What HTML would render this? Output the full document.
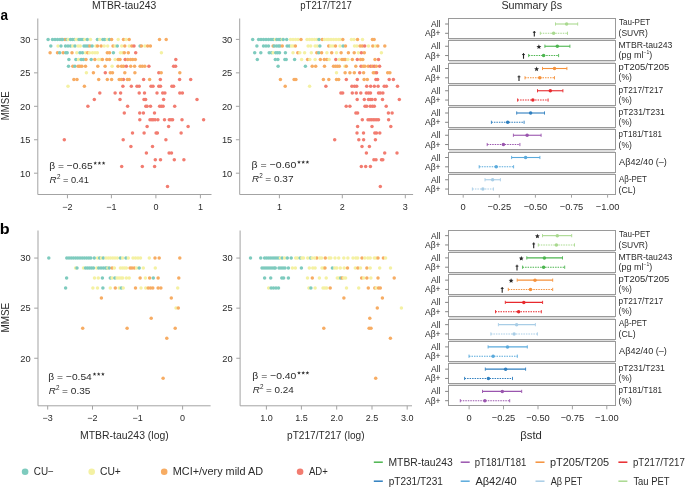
<!DOCTYPE html>
<html><head><meta charset="utf-8"><style>
html,body{margin:0;padding:0;background:#fff;}
svg{display:block;will-change:transform;}
text{font-family:"Liberation Sans", sans-serif;fill:#2b2b2b;}
</style></head><body>
<svg width="685" height="487" viewBox="0 0 685 487">
<rect width="685" height="487" fill="#fff"/>
<text x="0.39" y="19.5" font-size="15" textLength="7.54" lengthAdjust="spacingAndGlyphs" font-weight="bold" style="fill:#000">a</text>
<text x="-0.15" y="233.7" font-size="15" textLength="9.86" lengthAdjust="spacingAndGlyphs" font-weight="bold" style="fill:#000">b</text>
<text x="91.97" y="8.8" font-size="10.2" textLength="64.34" lengthAdjust="spacingAndGlyphs" >MTBR-tau243</text>
<text x="300.28" y="8.8" font-size="10.2" textLength="51.52" lengthAdjust="spacingAndGlyphs" >pT217/T217</text>
<text x="501.41" y="8.6" font-size="10.2" textLength="60.78" lengthAdjust="spacingAndGlyphs" >Summary βs</text>
<text transform="translate(9.0,105.85) rotate(-90)" font-size="10.5" text-anchor="middle" textLength="29.0" lengthAdjust="spacingAndGlyphs">MMSE</text>
<text transform="translate(9.2,317.6) rotate(-90)" font-size="10.6" text-anchor="middle" textLength="29.6" lengthAdjust="spacingAndGlyphs">MMSE</text>
<path d="M37.8 18.5 V194.5 H211.5" fill="none" stroke="#a3a3a3" stroke-width="1"/>
<line x1="34.0" y1="39.4" x2="37.8" y2="39.4" stroke="#a3a3a3" stroke-width="1"/>
<text x="30.4" y="42.7" font-size="9.3" text-anchor="end" >30</text>
<line x1="34.0" y1="72.85" x2="37.8" y2="72.85" stroke="#a3a3a3" stroke-width="1"/>
<text x="30.4" y="76.15" font-size="9.3" text-anchor="end" >25</text>
<line x1="34.0" y1="106.3" x2="37.8" y2="106.3" stroke="#a3a3a3" stroke-width="1"/>
<text x="30.4" y="109.6" font-size="9.3" text-anchor="end" >20</text>
<line x1="34.0" y1="139.75" x2="37.8" y2="139.75" stroke="#a3a3a3" stroke-width="1"/>
<text x="30.4" y="143.05" font-size="9.3" text-anchor="end" >15</text>
<line x1="34.0" y1="173.2" x2="37.8" y2="173.2" stroke="#a3a3a3" stroke-width="1"/>
<text x="30.4" y="176.5" font-size="9.3" text-anchor="end" >10</text>
<line x1="67.45" y1="194.5" x2="67.45" y2="198.3" stroke="#a3a3a3" stroke-width="1"/>
<text x="67.45" y="209.6" font-size="9" text-anchor="middle" >−2</text>
<line x1="111.4" y1="194.5" x2="111.4" y2="198.3" stroke="#a3a3a3" stroke-width="1"/>
<text x="111.4" y="209.6" font-size="9" text-anchor="middle" >−1</text>
<line x1="155.9" y1="194.5" x2="155.9" y2="198.3" stroke="#a3a3a3" stroke-width="1"/>
<text x="155.9" y="209.6" font-size="9" text-anchor="middle" >0</text>
<line x1="200.4" y1="194.5" x2="200.4" y2="198.3" stroke="#a3a3a3" stroke-width="1"/>
<text x="200.4" y="209.6" font-size="9" text-anchor="middle" >1</text>
<path d="M239.7 18.5 V194.5 H413.1" fill="none" stroke="#a3a3a3" stroke-width="1"/>
<line x1="235.89999999999998" y1="39.4" x2="239.7" y2="39.4" stroke="#a3a3a3" stroke-width="1"/>
<text x="232.3" y="42.7" font-size="9.3" text-anchor="end" >30</text>
<line x1="235.89999999999998" y1="72.85" x2="239.7" y2="72.85" stroke="#a3a3a3" stroke-width="1"/>
<text x="232.3" y="76.15" font-size="9.3" text-anchor="end" >25</text>
<line x1="235.89999999999998" y1="106.3" x2="239.7" y2="106.3" stroke="#a3a3a3" stroke-width="1"/>
<text x="232.3" y="109.6" font-size="9.3" text-anchor="end" >20</text>
<line x1="235.89999999999998" y1="139.75" x2="239.7" y2="139.75" stroke="#a3a3a3" stroke-width="1"/>
<text x="232.3" y="143.05" font-size="9.3" text-anchor="end" >15</text>
<line x1="235.89999999999998" y1="173.2" x2="239.7" y2="173.2" stroke="#a3a3a3" stroke-width="1"/>
<text x="232.3" y="176.5" font-size="9.3" text-anchor="end" >10</text>
<line x1="279.4" y1="194.5" x2="279.4" y2="198.3" stroke="#a3a3a3" stroke-width="1"/>
<text x="279.4" y="209.6" font-size="9" text-anchor="middle" >1</text>
<line x1="342.3" y1="194.5" x2="342.3" y2="198.3" stroke="#a3a3a3" stroke-width="1"/>
<text x="342.3" y="209.6" font-size="9" text-anchor="middle" >2</text>
<line x1="405.3" y1="194.5" x2="405.3" y2="198.3" stroke="#a3a3a3" stroke-width="1"/>
<text x="405.3" y="209.6" font-size="9" text-anchor="middle" >3</text>
<path d="M38.0 230.5 V405.8 H210.6" fill="none" stroke="#a3a3a3" stroke-width="1"/>
<line x1="34.2" y1="258.05" x2="38.0" y2="258.05" stroke="#a3a3a3" stroke-width="1"/>
<text x="30.6" y="261.35" font-size="9.3" text-anchor="end" >30</text>
<line x1="34.2" y1="308.15" x2="38.0" y2="308.15" stroke="#a3a3a3" stroke-width="1"/>
<text x="30.6" y="311.45" font-size="9.3" text-anchor="end" >25</text>
<line x1="34.2" y1="358.25" x2="38.0" y2="358.25" stroke="#a3a3a3" stroke-width="1"/>
<text x="30.6" y="361.55" font-size="9.3" text-anchor="end" >20</text>
<line x1="47.7" y1="405.8" x2="47.7" y2="409.6" stroke="#a3a3a3" stroke-width="1"/>
<text x="47.7" y="421" font-size="9" text-anchor="middle" >−3</text>
<line x1="92.5" y1="405.8" x2="92.5" y2="409.6" stroke="#a3a3a3" stroke-width="1"/>
<text x="92.5" y="421" font-size="9" text-anchor="middle" >−2</text>
<line x1="137.6" y1="405.8" x2="137.6" y2="409.6" stroke="#a3a3a3" stroke-width="1"/>
<text x="137.6" y="421" font-size="9" text-anchor="middle" >−1</text>
<line x1="182.6" y1="405.8" x2="182.6" y2="409.6" stroke="#a3a3a3" stroke-width="1"/>
<text x="182.6" y="421" font-size="9" text-anchor="middle" >0</text>
<path d="M240.1 230.5 V405.8 H412.0" fill="none" stroke="#a3a3a3" stroke-width="1"/>
<line x1="236.29999999999998" y1="258.05" x2="240.1" y2="258.05" stroke="#a3a3a3" stroke-width="1"/>
<text x="232.7" y="261.35" font-size="9.3" text-anchor="end" >30</text>
<line x1="236.29999999999998" y1="308.15" x2="240.1" y2="308.15" stroke="#a3a3a3" stroke-width="1"/>
<text x="232.7" y="311.45" font-size="9.3" text-anchor="end" >25</text>
<line x1="236.29999999999998" y1="358.25" x2="240.1" y2="358.25" stroke="#a3a3a3" stroke-width="1"/>
<text x="232.7" y="361.55" font-size="9.3" text-anchor="end" >20</text>
<line x1="266.4" y1="405.8" x2="266.4" y2="409.6" stroke="#a3a3a3" stroke-width="1"/>
<text x="266.4" y="421" font-size="9" text-anchor="middle" >1.0</text>
<line x1="301.4" y1="405.8" x2="301.4" y2="409.6" stroke="#a3a3a3" stroke-width="1"/>
<text x="301.4" y="421" font-size="9" text-anchor="middle" >1.5</text>
<line x1="336.7" y1="405.8" x2="336.7" y2="409.6" stroke="#a3a3a3" stroke-width="1"/>
<text x="336.7" y="421" font-size="9" text-anchor="middle" >2.0</text>
<line x1="372.0" y1="405.8" x2="372.0" y2="409.6" stroke="#a3a3a3" stroke-width="1"/>
<text x="372.0" y="421" font-size="9" text-anchor="middle" >2.5</text>
<line x1="407.2" y1="405.8" x2="407.2" y2="409.6" stroke="#a3a3a3" stroke-width="1"/>
<text x="407.2" y="421" font-size="9" text-anchor="middle" >3.0</text>
<text x="79.96" y="439" font-size="10" textLength="88.80" lengthAdjust="spacingAndGlyphs" >MTBR-tau243 (log)</text>
<text x="287.04" y="439.1" font-size="10" textLength="77.47" lengthAdjust="spacingAndGlyphs" >pT217/T217 (log)</text>
<text x="520.31" y="439" font-size="10.5" textLength="21.62" lengthAdjust="spacingAndGlyphs" >βstd</text>
<circle cx="61.5" cy="39.4" r="1.75" fill="#f7ac63"/>
<circle cx="65.0" cy="39.4" r="1.75" fill="#f7ac63"/>
<circle cx="123.4" cy="79.5" r="1.75" fill="#f27c70"/>
<circle cx="48.1" cy="39.4" r="1.75" fill="#7ecbbe"/>
<circle cx="52.5" cy="39.4" r="1.75" fill="#7ecbbe"/>
<circle cx="55.0" cy="39.4" r="1.75" fill="#7ecbbe"/>
<circle cx="57.5" cy="39.4" r="1.75" fill="#7ecbbe"/>
<circle cx="60.0" cy="39.4" r="1.75" fill="#7ecbbe"/>
<circle cx="62.5" cy="39.4" r="1.75" fill="#7ecbbe"/>
<circle cx="67.0" cy="39.4" r="1.75" fill="#7ecbbe"/>
<circle cx="68.2" cy="39.4" r="1.75" fill="#f4f1a3"/>
<circle cx="70.5" cy="39.4" r="1.75" fill="#7ecbbe"/>
<circle cx="72.5" cy="39.4" r="1.75" fill="#7ecbbe"/>
<circle cx="74.5" cy="39.4" r="1.75" fill="#7ecbbe"/>
<circle cx="76.0" cy="39.4" r="1.75" fill="#f4f1a3"/>
<circle cx="77.5" cy="39.4" r="1.75" fill="#f4f1a3"/>
<circle cx="79.0" cy="39.4" r="1.75" fill="#7ecbbe"/>
<circle cx="81.0" cy="39.4" r="1.75" fill="#7ecbbe"/>
<circle cx="83.0" cy="39.4" r="1.75" fill="#7ecbbe"/>
<circle cx="84.8" cy="39.4" r="1.75" fill="#f4f1a3"/>
<circle cx="87.3" cy="39.4" r="1.75" fill="#7ecbbe"/>
<circle cx="90.5" cy="39.4" r="1.75" fill="#f4f1a3"/>
<circle cx="97.4" cy="39.4" r="1.75" fill="#7ecbbe"/>
<circle cx="99.8" cy="39.4" r="1.75" fill="#f4f1a3"/>
<circle cx="102.9" cy="39.4" r="1.75" fill="#7ecbbe"/>
<circle cx="104.6" cy="39.4" r="1.75" fill="#7ecbbe"/>
<circle cx="107.3" cy="39.4" r="1.75" fill="#f4f1a3"/>
<circle cx="109.5" cy="39.4" r="1.75" fill="#7ecbbe"/>
<circle cx="111.6" cy="39.4" r="1.75" fill="#f7ac63"/>
<circle cx="118.2" cy="39.4" r="1.75" fill="#f4f1a3"/>
<circle cx="123.5" cy="39.4" r="1.75" fill="#f7ac63"/>
<circle cx="126.1" cy="39.4" r="1.75" fill="#f4f1a3"/>
<circle cx="129.2" cy="39.4" r="1.75" fill="#f7ac63"/>
<circle cx="159.5" cy="39.4" r="1.75" fill="#f7ac63"/>
<circle cx="166.2" cy="39.4" r="1.75" fill="#f7ac63"/>
<circle cx="50.8" cy="46.1" r="1.75" fill="#7ecbbe"/>
<circle cx="58.0" cy="46.1" r="1.75" fill="#f4f1a3"/>
<circle cx="61.0" cy="46.1" r="1.75" fill="#7ecbbe"/>
<circle cx="65.5" cy="46.1" r="1.75" fill="#7ecbbe"/>
<circle cx="68.0" cy="46.1" r="1.75" fill="#7ecbbe"/>
<circle cx="70.5" cy="46.1" r="1.75" fill="#7ecbbe"/>
<circle cx="72.8" cy="46.1" r="1.75" fill="#f4f1a3"/>
<circle cx="75.0" cy="46.1" r="1.75" fill="#7ecbbe"/>
<circle cx="78.1" cy="46.1" r="1.75" fill="#f4f1a3"/>
<circle cx="80.3" cy="46.1" r="1.75" fill="#f4f1a3"/>
<circle cx="84.0" cy="46.1" r="1.75" fill="#7ecbbe"/>
<circle cx="86.0" cy="46.1" r="1.75" fill="#7ecbbe"/>
<circle cx="88.0" cy="46.1" r="1.75" fill="#7ecbbe"/>
<circle cx="89.9" cy="46.1" r="1.75" fill="#f7ac63"/>
<circle cx="92.1" cy="46.1" r="1.75" fill="#7ecbbe"/>
<circle cx="95.9" cy="46.1" r="1.75" fill="#f4f1a3"/>
<circle cx="97.5" cy="46.1" r="1.75" fill="#f7ac63"/>
<circle cx="101.1" cy="46.1" r="1.75" fill="#f7ac63"/>
<circle cx="104.2" cy="46.1" r="1.75" fill="#f4f1a3"/>
<circle cx="107.7" cy="46.1" r="1.75" fill="#f4f1a3"/>
<circle cx="113.0" cy="46.1" r="1.75" fill="#f7ac63"/>
<circle cx="115.1" cy="46.1" r="1.75" fill="#f4f1a3"/>
<circle cx="117.3" cy="46.1" r="1.75" fill="#7ecbbe"/>
<circle cx="121.7" cy="46.1" r="1.75" fill="#f4f1a3"/>
<circle cx="124.8" cy="46.1" r="1.75" fill="#f7ac63"/>
<circle cx="129.2" cy="46.1" r="1.75" fill="#f4f1a3"/>
<circle cx="131.8" cy="46.1" r="1.75" fill="#f7ac63"/>
<circle cx="134.0" cy="46.1" r="1.75" fill="#f27c70"/>
<circle cx="140.1" cy="46.1" r="1.75" fill="#7ecbbe"/>
<circle cx="141.4" cy="46.1" r="1.75" fill="#f7ac63"/>
<circle cx="144.9" cy="46.1" r="1.75" fill="#f4f1a3"/>
<circle cx="147.6" cy="46.1" r="1.75" fill="#f7ac63"/>
<circle cx="150.4" cy="46.1" r="1.75" fill="#f7ac63"/>
<circle cx="50.1" cy="52.8" r="1.75" fill="#f7ac63"/>
<circle cx="57.5" cy="52.8" r="1.75" fill="#f7ac63"/>
<circle cx="59.7" cy="52.8" r="1.75" fill="#7ecbbe"/>
<circle cx="63.2" cy="52.8" r="1.75" fill="#f7ac63"/>
<circle cx="65.8" cy="52.8" r="1.75" fill="#7ecbbe"/>
<circle cx="67.2" cy="52.8" r="1.75" fill="#7ecbbe"/>
<circle cx="72.0" cy="52.8" r="1.75" fill="#f7ac63"/>
<circle cx="76.8" cy="52.8" r="1.75" fill="#f4f1a3"/>
<circle cx="80.0" cy="52.8" r="1.75" fill="#7ecbbe"/>
<circle cx="82.5" cy="52.8" r="1.75" fill="#7ecbbe"/>
<circle cx="85.5" cy="52.8" r="1.75" fill="#f4f1a3"/>
<circle cx="87.7" cy="52.8" r="1.75" fill="#f7ac63"/>
<circle cx="89.5" cy="52.8" r="1.75" fill="#f4f1a3"/>
<circle cx="92.5" cy="52.8" r="1.75" fill="#f4f1a3"/>
<circle cx="95.0" cy="52.8" r="1.75" fill="#f4f1a3"/>
<circle cx="97.3" cy="52.8" r="1.75" fill="#f4f1a3"/>
<circle cx="107.3" cy="52.8" r="1.75" fill="#f7ac63"/>
<circle cx="109.5" cy="52.8" r="1.75" fill="#f7ac63"/>
<circle cx="113.4" cy="52.8" r="1.75" fill="#7ecbbe"/>
<circle cx="120.4" cy="52.8" r="1.75" fill="#f4f1a3"/>
<circle cx="122.6" cy="52.8" r="1.75" fill="#f4f1a3"/>
<circle cx="124.3" cy="52.8" r="1.75" fill="#f7ac63"/>
<circle cx="128.3" cy="52.8" r="1.75" fill="#f7ac63"/>
<circle cx="135.7" cy="52.8" r="1.75" fill="#f27c70"/>
<circle cx="161.4" cy="52.8" r="1.75" fill="#f4f1a3"/>
<circle cx="68.9" cy="59.5" r="1.75" fill="#7ecbbe"/>
<circle cx="75.9" cy="59.5" r="1.75" fill="#7ecbbe"/>
<circle cx="78.5" cy="59.5" r="1.75" fill="#f4f1a3"/>
<circle cx="81.2" cy="59.5" r="1.75" fill="#7ecbbe"/>
<circle cx="83.4" cy="59.5" r="1.75" fill="#7ecbbe"/>
<circle cx="86.0" cy="59.5" r="1.75" fill="#f7ac63"/>
<circle cx="91.2" cy="59.5" r="1.75" fill="#7ecbbe"/>
<circle cx="94.9" cy="59.5" r="1.75" fill="#f7ac63"/>
<circle cx="98.6" cy="59.5" r="1.75" fill="#f4f1a3"/>
<circle cx="100.7" cy="59.5" r="1.75" fill="#f4f1a3"/>
<circle cx="102.4" cy="59.5" r="1.75" fill="#f7ac63"/>
<circle cx="106.8" cy="59.5" r="1.75" fill="#f7ac63"/>
<circle cx="109.5" cy="59.5" r="1.75" fill="#f7ac63"/>
<circle cx="115.1" cy="59.5" r="1.75" fill="#f4f1a3"/>
<circle cx="118.2" cy="59.5" r="1.75" fill="#f7ac63"/>
<circle cx="120.0" cy="59.5" r="1.75" fill="#f7ac63"/>
<circle cx="125.2" cy="59.5" r="1.75" fill="#f27c70"/>
<circle cx="127.8" cy="59.5" r="1.75" fill="#f7ac63"/>
<circle cx="130.5" cy="59.5" r="1.75" fill="#f7ac63"/>
<circle cx="132.7" cy="59.5" r="1.75" fill="#f7ac63"/>
<circle cx="135.3" cy="59.5" r="1.75" fill="#f7ac63"/>
<circle cx="175.8" cy="59.5" r="1.75" fill="#f27c70"/>
<circle cx="68.5" cy="66.2" r="1.75" fill="#7ecbbe"/>
<circle cx="72.8" cy="66.2" r="1.75" fill="#f7ac63"/>
<circle cx="74.9" cy="66.2" r="1.75" fill="#7ecbbe"/>
<circle cx="78.1" cy="66.2" r="1.75" fill="#f7ac63"/>
<circle cx="79.9" cy="66.2" r="1.75" fill="#f7ac63"/>
<circle cx="81.9" cy="66.2" r="1.75" fill="#f7ac63"/>
<circle cx="85.5" cy="66.2" r="1.75" fill="#f7ac63"/>
<circle cx="97.8" cy="66.2" r="1.75" fill="#f7ac63"/>
<circle cx="105.1" cy="66.2" r="1.75" fill="#f7ac63"/>
<circle cx="112.1" cy="66.2" r="1.75" fill="#f4f1a3"/>
<circle cx="118.0" cy="66.2" r="1.75" fill="#f7ac63"/>
<circle cx="121.5" cy="66.2" r="1.75" fill="#f7ac63"/>
<circle cx="123.5" cy="66.2" r="1.75" fill="#f7ac63"/>
<circle cx="126.4" cy="66.2" r="1.75" fill="#f27c70"/>
<circle cx="130.7" cy="66.2" r="1.75" fill="#f7ac63"/>
<circle cx="134.6" cy="66.2" r="1.75" fill="#f7ac63"/>
<circle cx="140.1" cy="66.2" r="1.75" fill="#f7ac63"/>
<circle cx="142.3" cy="66.2" r="1.75" fill="#f7ac63"/>
<circle cx="144.8" cy="66.2" r="1.75" fill="#f7ac63"/>
<circle cx="148.9" cy="66.2" r="1.75" fill="#f27c70"/>
<circle cx="173.6" cy="66.2" r="1.75" fill="#f27c70"/>
<circle cx="175.6" cy="66.2" r="1.75" fill="#f27c70"/>
<circle cx="86.4" cy="72.8" r="1.75" fill="#f4f1a3"/>
<circle cx="93.4" cy="72.8" r="1.75" fill="#f7ac63"/>
<circle cx="105.3" cy="72.8" r="1.75" fill="#f27c70"/>
<circle cx="110.3" cy="72.8" r="1.75" fill="#f7ac63"/>
<circle cx="112.5" cy="72.8" r="1.75" fill="#f7ac63"/>
<circle cx="124.8" cy="72.8" r="1.75" fill="#f7ac63"/>
<circle cx="134.9" cy="72.8" r="1.75" fill="#f7ac63"/>
<circle cx="158.8" cy="72.8" r="1.75" fill="#f27c70"/>
<circle cx="161.2" cy="72.8" r="1.75" fill="#f7ac63"/>
<circle cx="179.8" cy="72.8" r="1.75" fill="#f7ac63"/>
<circle cx="73.9" cy="79.5" r="1.75" fill="#f7ac63"/>
<circle cx="77.0" cy="79.5" r="1.75" fill="#f7ac63"/>
<circle cx="98.7" cy="79.5" r="1.75" fill="#f7ac63"/>
<circle cx="107.3" cy="79.5" r="1.75" fill="#f7ac63"/>
<circle cx="111.6" cy="79.5" r="1.75" fill="#f7ac63"/>
<circle cx="119.2" cy="79.5" r="1.75" fill="#f7ac63"/>
<circle cx="121.3" cy="79.5" r="1.75" fill="#f7ac63"/>
<circle cx="127.4" cy="79.5" r="1.75" fill="#f7ac63"/>
<circle cx="129.2" cy="79.5" r="1.75" fill="#f7ac63"/>
<circle cx="143.6" cy="79.5" r="1.75" fill="#f27c70"/>
<circle cx="149.6" cy="79.5" r="1.75" fill="#f7ac63"/>
<circle cx="160.3" cy="79.5" r="1.75" fill="#f27c70"/>
<circle cx="179.6" cy="79.5" r="1.75" fill="#f27c70"/>
<circle cx="190.7" cy="79.5" r="1.75" fill="#f27c70"/>
<circle cx="68.0" cy="86.2" r="1.75" fill="#f4f1a3"/>
<circle cx="84.4" cy="86.2" r="1.75" fill="#f7ac63"/>
<circle cx="122.9" cy="86.2" r="1.75" fill="#f27c70"/>
<circle cx="131.3" cy="86.2" r="1.75" fill="#f27c70"/>
<circle cx="137.0" cy="86.2" r="1.75" fill="#f27c70"/>
<circle cx="139.2" cy="86.2" r="1.75" fill="#f27c70"/>
<circle cx="151.0" cy="86.2" r="1.75" fill="#f27c70"/>
<circle cx="153.0" cy="86.2" r="1.75" fill="#f27c70"/>
<circle cx="158.8" cy="86.2" r="1.75" fill="#f27c70"/>
<circle cx="160.5" cy="86.2" r="1.75" fill="#f27c70"/>
<circle cx="171.9" cy="86.2" r="1.75" fill="#f27c70"/>
<circle cx="173.6" cy="86.2" r="1.75" fill="#f27c70"/>
<circle cx="99.8" cy="92.9" r="1.75" fill="#f27c70"/>
<circle cx="115.1" cy="92.9" r="1.75" fill="#f27c70"/>
<circle cx="120.6" cy="92.9" r="1.75" fill="#f27c70"/>
<circle cx="139.2" cy="92.9" r="1.75" fill="#f27c70"/>
<circle cx="144.5" cy="92.9" r="1.75" fill="#f27c70"/>
<circle cx="157.0" cy="92.9" r="1.75" fill="#f27c70"/>
<circle cx="162.7" cy="92.9" r="1.75" fill="#f27c70"/>
<circle cx="164.9" cy="92.9" r="1.75" fill="#f27c70"/>
<circle cx="179.8" cy="92.9" r="1.75" fill="#f27c70"/>
<circle cx="182.4" cy="92.9" r="1.75" fill="#f27c70"/>
<circle cx="94.3" cy="99.6" r="1.75" fill="#f27c70"/>
<circle cx="120.0" cy="99.6" r="1.75" fill="#f27c70"/>
<circle cx="144.0" cy="99.6" r="1.75" fill="#f27c70"/>
<circle cx="145.6" cy="99.6" r="1.75" fill="#f27c70"/>
<circle cx="163.6" cy="99.6" r="1.75" fill="#f27c70"/>
<circle cx="197.0" cy="99.6" r="1.75" fill="#f27c70"/>
<circle cx="87.9" cy="106.3" r="1.75" fill="#f27c70"/>
<circle cx="127.6" cy="106.3" r="1.75" fill="#f27c70"/>
<circle cx="145.8" cy="106.3" r="1.75" fill="#f27c70"/>
<circle cx="147.1" cy="106.3" r="1.75" fill="#f27c70"/>
<circle cx="150.5" cy="106.3" r="1.75" fill="#f27c70"/>
<circle cx="159.6" cy="106.3" r="1.75" fill="#f27c70"/>
<circle cx="161.4" cy="106.3" r="1.75" fill="#f27c70"/>
<circle cx="163.1" cy="106.3" r="1.75" fill="#f27c70"/>
<circle cx="174.7" cy="106.3" r="1.75" fill="#f27c70"/>
<circle cx="124.3" cy="113.0" r="1.75" fill="#f27c70"/>
<circle cx="139.7" cy="113.0" r="1.75" fill="#f27c70"/>
<circle cx="143.4" cy="113.0" r="1.75" fill="#f27c70"/>
<circle cx="154.5" cy="113.0" r="1.75" fill="#f27c70"/>
<circle cx="139.8" cy="119.7" r="1.75" fill="#f27c70"/>
<circle cx="150.0" cy="119.7" r="1.75" fill="#f27c70"/>
<circle cx="151.8" cy="119.7" r="1.75" fill="#f27c70"/>
<circle cx="153.2" cy="119.7" r="1.75" fill="#f27c70"/>
<circle cx="155.1" cy="119.7" r="1.75" fill="#f27c70"/>
<circle cx="157.9" cy="119.7" r="1.75" fill="#f27c70"/>
<circle cx="164.5" cy="119.7" r="1.75" fill="#f27c70"/>
<circle cx="169.3" cy="119.7" r="1.75" fill="#f27c70"/>
<circle cx="171.0" cy="119.7" r="1.75" fill="#f27c70"/>
<circle cx="172.6" cy="119.7" r="1.75" fill="#f27c70"/>
<circle cx="182.0" cy="119.7" r="1.75" fill="#f27c70"/>
<circle cx="203.6" cy="119.7" r="1.75" fill="#f27c70"/>
<circle cx="147.1" cy="126.4" r="1.75" fill="#f27c70"/>
<circle cx="168.6" cy="126.4" r="1.75" fill="#f27c70"/>
<circle cx="188.1" cy="126.4" r="1.75" fill="#f27c70"/>
<circle cx="132.5" cy="133.1" r="1.75" fill="#f27c70"/>
<circle cx="144.1" cy="133.1" r="1.75" fill="#f27c70"/>
<circle cx="156.1" cy="133.1" r="1.75" fill="#f27c70"/>
<circle cx="157.4" cy="133.1" r="1.75" fill="#f27c70"/>
<circle cx="181.1" cy="133.1" r="1.75" fill="#f27c70"/>
<circle cx="64.3" cy="139.8" r="1.75" fill="#f27c70"/>
<circle cx="123.2" cy="139.8" r="1.75" fill="#f27c70"/>
<circle cx="165.9" cy="139.8" r="1.75" fill="#f27c70"/>
<circle cx="130.9" cy="146.4" r="1.75" fill="#f27c70"/>
<circle cx="152.5" cy="146.4" r="1.75" fill="#f27c70"/>
<circle cx="146.4" cy="153.1" r="1.75" fill="#f27c70"/>
<circle cx="169.1" cy="153.1" r="1.75" fill="#f27c70"/>
<circle cx="171.5" cy="153.1" r="1.75" fill="#f27c70"/>
<circle cx="155.3" cy="159.8" r="1.75" fill="#f27c70"/>
<circle cx="160.5" cy="159.8" r="1.75" fill="#f27c70"/>
<circle cx="174.3" cy="159.8" r="1.75" fill="#f27c70"/>
<circle cx="183.9" cy="159.8" r="1.75" fill="#f27c70"/>
<circle cx="121.7" cy="166.5" r="1.75" fill="#f27c70"/>
<circle cx="142.3" cy="166.5" r="1.75" fill="#f27c70"/>
<circle cx="154.6" cy="166.5" r="1.75" fill="#f27c70"/>
<circle cx="167.5" cy="186.6" r="1.75" fill="#f27c70"/>
<circle cx="252.7" cy="39.4" r="1.75" fill="#7ecbbe"/>
<circle cx="258.6" cy="39.4" r="1.75" fill="#7ecbbe"/>
<circle cx="261.0" cy="39.4" r="1.75" fill="#7ecbbe"/>
<circle cx="263.5" cy="39.4" r="1.75" fill="#7ecbbe"/>
<circle cx="266.0" cy="39.4" r="1.75" fill="#7ecbbe"/>
<circle cx="268.5" cy="39.4" r="1.75" fill="#7ecbbe"/>
<circle cx="271.0" cy="39.4" r="1.75" fill="#7ecbbe"/>
<circle cx="273.1" cy="39.4" r="1.75" fill="#7ecbbe"/>
<circle cx="275.3" cy="39.4" r="1.75" fill="#f4f1a3"/>
<circle cx="276.8" cy="39.4" r="1.75" fill="#7ecbbe"/>
<circle cx="279.0" cy="39.4" r="1.75" fill="#7ecbbe"/>
<circle cx="280.5" cy="39.4" r="1.75" fill="#7ecbbe"/>
<circle cx="282.3" cy="39.4" r="1.75" fill="#f4f1a3"/>
<circle cx="283.2" cy="39.4" r="1.75" fill="#7ecbbe"/>
<circle cx="286.7" cy="39.4" r="1.75" fill="#7ecbbe"/>
<circle cx="290.5" cy="39.4" r="1.75" fill="#f4f1a3"/>
<circle cx="293.0" cy="39.4" r="1.75" fill="#f4f1a3"/>
<circle cx="295.5" cy="39.4" r="1.75" fill="#f4f1a3"/>
<circle cx="298.0" cy="39.4" r="1.75" fill="#f4f1a3"/>
<circle cx="301.0" cy="39.4" r="1.75" fill="#f7ac63"/>
<circle cx="307.0" cy="39.4" r="1.75" fill="#f4f1a3"/>
<circle cx="309.5" cy="39.4" r="1.75" fill="#f4f1a3"/>
<circle cx="312.0" cy="39.4" r="1.75" fill="#f4f1a3"/>
<circle cx="314.5" cy="39.4" r="1.75" fill="#f4f1a3"/>
<circle cx="317.0" cy="39.4" r="1.75" fill="#f4f1a3"/>
<circle cx="319.0" cy="39.4" r="1.75" fill="#7ecbbe"/>
<circle cx="322.3" cy="39.4" r="1.75" fill="#f7ac63"/>
<circle cx="324.5" cy="39.4" r="1.75" fill="#f4f1a3"/>
<circle cx="327.0" cy="39.4" r="1.75" fill="#f4f1a3"/>
<circle cx="328.7" cy="39.4" r="1.75" fill="#f4f1a3"/>
<circle cx="331.0" cy="39.4" r="1.75" fill="#f4f1a3"/>
<circle cx="333.5" cy="39.4" r="1.75" fill="#f4f1a3"/>
<circle cx="336.0" cy="39.4" r="1.75" fill="#f4f1a3"/>
<circle cx="338.5" cy="39.4" r="1.75" fill="#f4f1a3"/>
<circle cx="340.0" cy="39.4" r="1.75" fill="#f4f1a3"/>
<circle cx="342.8" cy="39.4" r="1.75" fill="#f7ac63"/>
<circle cx="351.4" cy="39.4" r="1.75" fill="#f4f1a3"/>
<circle cx="354.0" cy="39.4" r="1.75" fill="#f4f1a3"/>
<circle cx="357.5" cy="39.4" r="1.75" fill="#f7ac63"/>
<circle cx="362.5" cy="39.4" r="1.75" fill="#f4f1a3"/>
<circle cx="372.4" cy="39.4" r="1.75" fill="#f7ac63"/>
<circle cx="374.1" cy="39.4" r="1.75" fill="#f7ac63"/>
<circle cx="256.9" cy="46.1" r="1.75" fill="#7ecbbe"/>
<circle cx="263.5" cy="46.1" r="1.75" fill="#7ecbbe"/>
<circle cx="266.0" cy="46.1" r="1.75" fill="#7ecbbe"/>
<circle cx="268.5" cy="46.1" r="1.75" fill="#7ecbbe"/>
<circle cx="273.1" cy="46.1" r="1.75" fill="#f7ac63"/>
<circle cx="274.2" cy="46.1" r="1.75" fill="#7ecbbe"/>
<circle cx="276.5" cy="46.1" r="1.75" fill="#7ecbbe"/>
<circle cx="278.5" cy="46.1" r="1.75" fill="#7ecbbe"/>
<circle cx="280.0" cy="46.1" r="1.75" fill="#7ecbbe"/>
<circle cx="282.3" cy="46.1" r="1.75" fill="#f7ac63"/>
<circle cx="287.1" cy="46.1" r="1.75" fill="#7ecbbe"/>
<circle cx="289.3" cy="46.1" r="1.75" fill="#7ecbbe"/>
<circle cx="291.5" cy="46.1" r="1.75" fill="#f4f1a3"/>
<circle cx="293.2" cy="46.1" r="1.75" fill="#f4f1a3"/>
<circle cx="295.4" cy="46.1" r="1.75" fill="#f7ac63"/>
<circle cx="308.1" cy="46.1" r="1.75" fill="#f4f1a3"/>
<circle cx="310.7" cy="46.1" r="1.75" fill="#f4f1a3"/>
<circle cx="315.1" cy="46.1" r="1.75" fill="#f4f1a3"/>
<circle cx="317.3" cy="46.1" r="1.75" fill="#f4f1a3"/>
<circle cx="319.9" cy="46.1" r="1.75" fill="#7ecbbe"/>
<circle cx="328.7" cy="46.1" r="1.75" fill="#f7ac63"/>
<circle cx="330.8" cy="46.1" r="1.75" fill="#f4f1a3"/>
<circle cx="333.0" cy="46.1" r="1.75" fill="#f4f1a3"/>
<circle cx="335.5" cy="46.1" r="1.75" fill="#f7ac63"/>
<circle cx="340.0" cy="46.1" r="1.75" fill="#f4f1a3"/>
<circle cx="343.1" cy="46.1" r="1.75" fill="#7ecbbe"/>
<circle cx="345.5" cy="46.1" r="1.75" fill="#f7ac63"/>
<circle cx="354.5" cy="46.1" r="1.75" fill="#f4f1a3"/>
<circle cx="356.9" cy="46.1" r="1.75" fill="#f4f1a3"/>
<circle cx="360.1" cy="46.1" r="1.75" fill="#f7ac63"/>
<circle cx="362.3" cy="46.1" r="1.75" fill="#f7ac63"/>
<circle cx="364.7" cy="46.1" r="1.75" fill="#f27c70"/>
<circle cx="368.5" cy="46.1" r="1.75" fill="#f4f1a3"/>
<circle cx="372.8" cy="46.1" r="1.75" fill="#f7ac63"/>
<circle cx="375.5" cy="46.1" r="1.75" fill="#f4f1a3"/>
<circle cx="377.8" cy="46.1" r="1.75" fill="#f7ac63"/>
<circle cx="384.8" cy="46.1" r="1.75" fill="#f7ac63"/>
<circle cx="254.7" cy="52.8" r="1.75" fill="#7ecbbe"/>
<circle cx="260.8" cy="52.8" r="1.75" fill="#7ecbbe"/>
<circle cx="269.2" cy="52.8" r="1.75" fill="#7ecbbe"/>
<circle cx="271.5" cy="52.8" r="1.75" fill="#7ecbbe"/>
<circle cx="273.1" cy="52.8" r="1.75" fill="#f4f1a3"/>
<circle cx="275.7" cy="52.8" r="1.75" fill="#7ecbbe"/>
<circle cx="277.5" cy="52.8" r="1.75" fill="#7ecbbe"/>
<circle cx="279.5" cy="52.8" r="1.75" fill="#7ecbbe"/>
<circle cx="285.4" cy="52.8" r="1.75" fill="#7ecbbe"/>
<circle cx="293.0" cy="52.8" r="1.75" fill="#f4f1a3"/>
<circle cx="297.8" cy="52.8" r="1.75" fill="#f7ac63"/>
<circle cx="299.8" cy="52.8" r="1.75" fill="#f4f1a3"/>
<circle cx="304.6" cy="52.8" r="1.75" fill="#f4f1a3"/>
<circle cx="311.3" cy="52.8" r="1.75" fill="#f4f1a3"/>
<circle cx="316.8" cy="52.8" r="1.75" fill="#f7ac63"/>
<circle cx="318.8" cy="52.8" r="1.75" fill="#7ecbbe"/>
<circle cx="321.6" cy="52.8" r="1.75" fill="#f7ac63"/>
<circle cx="326.9" cy="52.8" r="1.75" fill="#f4f1a3"/>
<circle cx="331.7" cy="52.8" r="1.75" fill="#f7ac63"/>
<circle cx="336.5" cy="52.8" r="1.75" fill="#f4f1a3"/>
<circle cx="341.1" cy="52.8" r="1.75" fill="#f7ac63"/>
<circle cx="348.4" cy="52.8" r="1.75" fill="#f7ac63"/>
<circle cx="354.2" cy="52.8" r="1.75" fill="#f7ac63"/>
<circle cx="358.4" cy="52.8" r="1.75" fill="#f4f1a3"/>
<circle cx="361.4" cy="52.8" r="1.75" fill="#f27c70"/>
<circle cx="364.3" cy="52.8" r="1.75" fill="#f7ac63"/>
<circle cx="381.4" cy="52.8" r="1.75" fill="#f4f1a3"/>
<circle cx="257.3" cy="59.5" r="1.75" fill="#7ecbbe"/>
<circle cx="275.3" cy="59.5" r="1.75" fill="#7ecbbe"/>
<circle cx="277.9" cy="59.5" r="1.75" fill="#7ecbbe"/>
<circle cx="284.9" cy="59.5" r="1.75" fill="#7ecbbe"/>
<circle cx="286.2" cy="59.5" r="1.75" fill="#7ecbbe"/>
<circle cx="294.6" cy="59.5" r="1.75" fill="#7ecbbe"/>
<circle cx="301.6" cy="59.5" r="1.75" fill="#f4f1a3"/>
<circle cx="307.6" cy="59.5" r="1.75" fill="#f7ac63"/>
<circle cx="309.8" cy="59.5" r="1.75" fill="#f4f1a3"/>
<circle cx="315.1" cy="59.5" r="1.75" fill="#f4f1a3"/>
<circle cx="320.3" cy="59.5" r="1.75" fill="#f7ac63"/>
<circle cx="324.3" cy="59.5" r="1.75" fill="#f7ac63"/>
<circle cx="326.9" cy="59.5" r="1.75" fill="#f7ac63"/>
<circle cx="329.1" cy="59.5" r="1.75" fill="#f4f1a3"/>
<circle cx="335.8" cy="59.5" r="1.75" fill="#f27c70"/>
<circle cx="339.2" cy="59.5" r="1.75" fill="#f4f1a3"/>
<circle cx="342.0" cy="59.5" r="1.75" fill="#f7ac63"/>
<circle cx="344.0" cy="59.5" r="1.75" fill="#f7ac63"/>
<circle cx="345.3" cy="59.5" r="1.75" fill="#f7ac63"/>
<circle cx="347.9" cy="59.5" r="1.75" fill="#f4f1a3"/>
<circle cx="352.3" cy="59.5" r="1.75" fill="#f7ac63"/>
<circle cx="357.3" cy="59.5" r="1.75" fill="#f27c70"/>
<circle cx="360.6" cy="59.5" r="1.75" fill="#f7ac63"/>
<circle cx="362.8" cy="59.5" r="1.75" fill="#f7ac63"/>
<circle cx="375.0" cy="59.5" r="1.75" fill="#f7ac63"/>
<circle cx="378.5" cy="59.5" r="1.75" fill="#f27c70"/>
<circle cx="278.1" cy="66.2" r="1.75" fill="#7ecbbe"/>
<circle cx="305.4" cy="66.2" r="1.75" fill="#7ecbbe"/>
<circle cx="312.2" cy="66.2" r="1.75" fill="#f7ac63"/>
<circle cx="315.7" cy="66.2" r="1.75" fill="#f7ac63"/>
<circle cx="324.5" cy="66.2" r="1.75" fill="#f7ac63"/>
<circle cx="333.5" cy="66.2" r="1.75" fill="#f7ac63"/>
<circle cx="335.5" cy="66.2" r="1.75" fill="#f7ac63"/>
<circle cx="337.4" cy="66.2" r="1.75" fill="#f7ac63"/>
<circle cx="339.3" cy="66.2" r="1.75" fill="#f7ac63"/>
<circle cx="344.9" cy="66.2" r="1.75" fill="#f4f1a3"/>
<circle cx="346.3" cy="66.2" r="1.75" fill="#f7ac63"/>
<circle cx="355.8" cy="66.2" r="1.75" fill="#f7ac63"/>
<circle cx="361.0" cy="66.2" r="1.75" fill="#f27c70"/>
<circle cx="363.2" cy="66.2" r="1.75" fill="#f7ac63"/>
<circle cx="364.9" cy="66.2" r="1.75" fill="#f7ac63"/>
<circle cx="368.2" cy="66.2" r="1.75" fill="#f7ac63"/>
<circle cx="370.6" cy="66.2" r="1.75" fill="#f27c70"/>
<circle cx="372.4" cy="66.2" r="1.75" fill="#f7ac63"/>
<circle cx="374.3" cy="66.2" r="1.75" fill="#f27c70"/>
<circle cx="376.3" cy="66.2" r="1.75" fill="#f7ac63"/>
<circle cx="379.6" cy="66.2" r="1.75" fill="#f27c70"/>
<circle cx="336.5" cy="72.8" r="1.75" fill="#f4f1a3"/>
<circle cx="345.1" cy="72.8" r="1.75" fill="#f7ac63"/>
<circle cx="349.9" cy="72.8" r="1.75" fill="#f7ac63"/>
<circle cx="354.3" cy="72.8" r="1.75" fill="#f7ac63"/>
<circle cx="359.7" cy="72.8" r="1.75" fill="#f27c70"/>
<circle cx="363.6" cy="72.8" r="1.75" fill="#f7ac63"/>
<circle cx="373.3" cy="72.8" r="1.75" fill="#f7ac63"/>
<circle cx="375.0" cy="72.8" r="1.75" fill="#f7ac63"/>
<circle cx="376.6" cy="72.8" r="1.75" fill="#f27c70"/>
<circle cx="387.7" cy="72.8" r="1.75" fill="#f7ac63"/>
<circle cx="389.9" cy="72.8" r="1.75" fill="#f7ac63"/>
<circle cx="280.4" cy="79.5" r="1.75" fill="#f7ac63"/>
<circle cx="294.1" cy="79.5" r="1.75" fill="#f7ac63"/>
<circle cx="295.9" cy="79.5" r="1.75" fill="#f7ac63"/>
<circle cx="323.4" cy="79.5" r="1.75" fill="#f7ac63"/>
<circle cx="328.8" cy="79.5" r="1.75" fill="#f7ac63"/>
<circle cx="336.5" cy="79.5" r="1.75" fill="#f7ac63"/>
<circle cx="338.7" cy="79.5" r="1.75" fill="#f7ac63"/>
<circle cx="346.3" cy="79.5" r="1.75" fill="#f27c70"/>
<circle cx="357.3" cy="79.5" r="1.75" fill="#f27c70"/>
<circle cx="364.1" cy="79.5" r="1.75" fill="#f7ac63"/>
<circle cx="367.3" cy="79.5" r="1.75" fill="#f7ac63"/>
<circle cx="375.9" cy="79.5" r="1.75" fill="#f27c70"/>
<circle cx="377.6" cy="79.5" r="1.75" fill="#f27c70"/>
<circle cx="389.2" cy="79.5" r="1.75" fill="#f27c70"/>
<circle cx="393.4" cy="79.5" r="1.75" fill="#f27c70"/>
<circle cx="285.2" cy="86.2" r="1.75" fill="#f7ac63"/>
<circle cx="309.6" cy="86.2" r="1.75" fill="#f4f1a3"/>
<circle cx="325.9" cy="86.2" r="1.75" fill="#f27c70"/>
<circle cx="351.9" cy="86.2" r="1.75" fill="#f27c70"/>
<circle cx="354.5" cy="86.2" r="1.75" fill="#f27c70"/>
<circle cx="356.7" cy="86.2" r="1.75" fill="#f27c70"/>
<circle cx="366.7" cy="86.2" r="1.75" fill="#f27c70"/>
<circle cx="370.6" cy="86.2" r="1.75" fill="#f27c70"/>
<circle cx="374.3" cy="86.2" r="1.75" fill="#f27c70"/>
<circle cx="378.1" cy="86.2" r="1.75" fill="#f27c70"/>
<circle cx="384.2" cy="86.2" r="1.75" fill="#f27c70"/>
<circle cx="386.4" cy="86.2" r="1.75" fill="#f27c70"/>
<circle cx="397.5" cy="86.2" r="1.75" fill="#f27c70"/>
<circle cx="340.9" cy="92.9" r="1.75" fill="#f27c70"/>
<circle cx="342.7" cy="92.9" r="1.75" fill="#f27c70"/>
<circle cx="352.3" cy="92.9" r="1.75" fill="#f27c70"/>
<circle cx="356.3" cy="92.9" r="1.75" fill="#f27c70"/>
<circle cx="360.8" cy="92.9" r="1.75" fill="#f27c70"/>
<circle cx="366.3" cy="92.9" r="1.75" fill="#f27c70"/>
<circle cx="368.5" cy="92.9" r="1.75" fill="#f27c70"/>
<circle cx="370.5" cy="92.9" r="1.75" fill="#f27c70"/>
<circle cx="378.5" cy="92.9" r="1.75" fill="#f27c70"/>
<circle cx="380.3" cy="92.9" r="1.75" fill="#f27c70"/>
<circle cx="382.9" cy="92.9" r="1.75" fill="#f27c70"/>
<circle cx="357.2" cy="99.6" r="1.75" fill="#f27c70"/>
<circle cx="364.3" cy="99.6" r="1.75" fill="#f27c70"/>
<circle cx="368.5" cy="99.6" r="1.75" fill="#f27c70"/>
<circle cx="370.2" cy="99.6" r="1.75" fill="#f27c70"/>
<circle cx="372.0" cy="99.6" r="1.75" fill="#f27c70"/>
<circle cx="375.2" cy="99.6" r="1.75" fill="#f27c70"/>
<circle cx="382.5" cy="99.6" r="1.75" fill="#f27c70"/>
<circle cx="399.3" cy="99.6" r="1.75" fill="#f27c70"/>
<circle cx="346.2" cy="106.3" r="1.75" fill="#f27c70"/>
<circle cx="349.9" cy="106.3" r="1.75" fill="#f27c70"/>
<circle cx="365.0" cy="106.3" r="1.75" fill="#f27c70"/>
<circle cx="366.7" cy="106.3" r="1.75" fill="#f27c70"/>
<circle cx="370.2" cy="106.3" r="1.75" fill="#f27c70"/>
<circle cx="372.4" cy="106.3" r="1.75" fill="#f27c70"/>
<circle cx="374.3" cy="106.3" r="1.75" fill="#f27c70"/>
<circle cx="386.2" cy="106.3" r="1.75" fill="#f27c70"/>
<circle cx="355.9" cy="113.0" r="1.75" fill="#f27c70"/>
<circle cx="357.6" cy="113.0" r="1.75" fill="#f27c70"/>
<circle cx="388.4" cy="113.0" r="1.75" fill="#f27c70"/>
<circle cx="392.1" cy="113.0" r="1.75" fill="#f27c70"/>
<circle cx="362.3" cy="119.7" r="1.75" fill="#f27c70"/>
<circle cx="368.0" cy="119.7" r="1.75" fill="#f27c70"/>
<circle cx="369.8" cy="119.7" r="1.75" fill="#f27c70"/>
<circle cx="371.5" cy="119.7" r="1.75" fill="#f27c70"/>
<circle cx="373.3" cy="119.7" r="1.75" fill="#f27c70"/>
<circle cx="375.0" cy="119.7" r="1.75" fill="#f27c70"/>
<circle cx="376.8" cy="119.7" r="1.75" fill="#f27c70"/>
<circle cx="378.5" cy="119.7" r="1.75" fill="#f27c70"/>
<circle cx="388.6" cy="119.7" r="1.75" fill="#f27c70"/>
<circle cx="357.6" cy="126.4" r="1.75" fill="#f27c70"/>
<circle cx="372.0" cy="126.4" r="1.75" fill="#f27c70"/>
<circle cx="390.8" cy="126.4" r="1.75" fill="#f27c70"/>
<circle cx="357.0" cy="133.1" r="1.75" fill="#f27c70"/>
<circle cx="363.5" cy="133.1" r="1.75" fill="#f27c70"/>
<circle cx="374.8" cy="133.1" r="1.75" fill="#f27c70"/>
<circle cx="376.5" cy="133.1" r="1.75" fill="#f27c70"/>
<circle cx="379.8" cy="133.1" r="1.75" fill="#f27c70"/>
<circle cx="334.7" cy="139.8" r="1.75" fill="#f27c70"/>
<circle cx="358.8" cy="139.8" r="1.75" fill="#f27c70"/>
<circle cx="363.6" cy="139.8" r="1.75" fill="#f27c70"/>
<circle cx="375.4" cy="139.8" r="1.75" fill="#f27c70"/>
<circle cx="362.0" cy="146.4" r="1.75" fill="#f27c70"/>
<circle cx="369.4" cy="146.4" r="1.75" fill="#f27c70"/>
<circle cx="366.4" cy="153.1" r="1.75" fill="#f27c70"/>
<circle cx="384.7" cy="153.1" r="1.75" fill="#f27c70"/>
<circle cx="397.0" cy="153.1" r="1.75" fill="#f27c70"/>
<circle cx="373.9" cy="159.8" r="1.75" fill="#f27c70"/>
<circle cx="376.0" cy="159.8" r="1.75" fill="#f27c70"/>
<circle cx="381.5" cy="159.8" r="1.75" fill="#f27c70"/>
<circle cx="382.8" cy="159.8" r="1.75" fill="#f27c70"/>
<circle cx="361.3" cy="166.5" r="1.75" fill="#f27c70"/>
<circle cx="365.7" cy="166.5" r="1.75" fill="#f27c70"/>
<circle cx="370.4" cy="166.5" r="1.75" fill="#f27c70"/>
<circle cx="380.3" cy="186.6" r="1.75" fill="#f27c70"/>
<circle cx="48.8" cy="258.1" r="1.75" fill="#7ecbbe"/>
<circle cx="66.8" cy="258.1" r="1.75" fill="#7ecbbe"/>
<circle cx="69.0" cy="258.1" r="1.75" fill="#7ecbbe"/>
<circle cx="71.2" cy="258.1" r="1.75" fill="#7ecbbe"/>
<circle cx="73.4" cy="258.1" r="1.75" fill="#7ecbbe"/>
<circle cx="75.6" cy="258.1" r="1.75" fill="#7ecbbe"/>
<circle cx="77.8" cy="258.1" r="1.75" fill="#7ecbbe"/>
<circle cx="80.0" cy="258.1" r="1.75" fill="#7ecbbe"/>
<circle cx="82.2" cy="258.1" r="1.75" fill="#7ecbbe"/>
<circle cx="84.4" cy="258.1" r="1.75" fill="#7ecbbe"/>
<circle cx="86.6" cy="258.1" r="1.75" fill="#7ecbbe"/>
<circle cx="88.8" cy="258.1" r="1.75" fill="#7ecbbe"/>
<circle cx="90.8" cy="258.1" r="1.75" fill="#7ecbbe"/>
<circle cx="94.3" cy="258.1" r="1.75" fill="#7ecbbe"/>
<circle cx="97.5" cy="258.1" r="1.75" fill="#f4f1a3"/>
<circle cx="99.6" cy="258.1" r="1.75" fill="#7ecbbe"/>
<circle cx="101.5" cy="258.1" r="1.75" fill="#f4f1a3"/>
<circle cx="103.3" cy="258.1" r="1.75" fill="#7ecbbe"/>
<circle cx="106.0" cy="258.1" r="1.75" fill="#f4f1a3"/>
<circle cx="108.3" cy="258.1" r="1.75" fill="#f4f1a3"/>
<circle cx="110.5" cy="258.1" r="1.75" fill="#f4f1a3"/>
<circle cx="112.8" cy="258.1" r="1.75" fill="#f4f1a3"/>
<circle cx="115.0" cy="258.1" r="1.75" fill="#f4f1a3"/>
<circle cx="117.3" cy="258.1" r="1.75" fill="#f4f1a3"/>
<circle cx="120.4" cy="258.1" r="1.75" fill="#7ecbbe"/>
<circle cx="122.7" cy="258.1" r="1.75" fill="#f4f1a3"/>
<circle cx="126.0" cy="258.1" r="1.75" fill="#7ecbbe"/>
<circle cx="128.3" cy="258.1" r="1.75" fill="#f4f1a3"/>
<circle cx="133.0" cy="258.1" r="1.75" fill="#f4f1a3"/>
<circle cx="135.5" cy="258.1" r="1.75" fill="#f4f1a3"/>
<circle cx="138.0" cy="258.1" r="1.75" fill="#f4f1a3"/>
<circle cx="140.5" cy="258.1" r="1.75" fill="#f4f1a3"/>
<circle cx="149.3" cy="258.1" r="1.75" fill="#f4f1a3"/>
<circle cx="155.0" cy="258.1" r="1.75" fill="#f7ac63"/>
<circle cx="159.2" cy="258.1" r="1.75" fill="#f7ac63"/>
<circle cx="179.8" cy="258.1" r="1.75" fill="#f7ac63"/>
<circle cx="75.6" cy="268.1" r="1.75" fill="#f4f1a3"/>
<circle cx="77.0" cy="268.1" r="1.75" fill="#7ecbbe"/>
<circle cx="83.5" cy="268.1" r="1.75" fill="#f4f1a3"/>
<circle cx="85.5" cy="268.1" r="1.75" fill="#7ecbbe"/>
<circle cx="87.5" cy="268.1" r="1.75" fill="#7ecbbe"/>
<circle cx="89.5" cy="268.1" r="1.75" fill="#7ecbbe"/>
<circle cx="91.5" cy="268.1" r="1.75" fill="#7ecbbe"/>
<circle cx="93.5" cy="268.1" r="1.75" fill="#7ecbbe"/>
<circle cx="96.7" cy="268.1" r="1.75" fill="#f4f1a3"/>
<circle cx="98.7" cy="268.1" r="1.75" fill="#7ecbbe"/>
<circle cx="101.0" cy="268.1" r="1.75" fill="#7ecbbe"/>
<circle cx="103.3" cy="268.1" r="1.75" fill="#7ecbbe"/>
<circle cx="105.5" cy="268.1" r="1.75" fill="#7ecbbe"/>
<circle cx="107.0" cy="268.1" r="1.75" fill="#7ecbbe"/>
<circle cx="107.9" cy="268.1" r="1.75" fill="#f4f1a3"/>
<circle cx="109.3" cy="268.1" r="1.75" fill="#7ecbbe"/>
<circle cx="112.1" cy="268.1" r="1.75" fill="#f7ac63"/>
<circle cx="114.4" cy="268.1" r="1.75" fill="#f4f1a3"/>
<circle cx="120.4" cy="268.1" r="1.75" fill="#f4f1a3"/>
<circle cx="122.5" cy="268.1" r="1.75" fill="#f4f1a3"/>
<circle cx="124.5" cy="268.1" r="1.75" fill="#f4f1a3"/>
<circle cx="126.4" cy="268.1" r="1.75" fill="#f4f1a3"/>
<circle cx="130.1" cy="268.1" r="1.75" fill="#f7ac63"/>
<circle cx="132.0" cy="268.1" r="1.75" fill="#f7ac63"/>
<circle cx="134.3" cy="268.1" r="1.75" fill="#f7ac63"/>
<circle cx="136.6" cy="268.1" r="1.75" fill="#f4f1a3"/>
<circle cx="139.2" cy="268.1" r="1.75" fill="#7ecbbe"/>
<circle cx="143.3" cy="268.1" r="1.75" fill="#f4f1a3"/>
<circle cx="155.3" cy="268.1" r="1.75" fill="#f4f1a3"/>
<circle cx="66.6" cy="278.1" r="1.75" fill="#7ecbbe"/>
<circle cx="94.5" cy="278.1" r="1.75" fill="#f4f1a3"/>
<circle cx="98.3" cy="278.1" r="1.75" fill="#f4f1a3"/>
<circle cx="102.4" cy="278.1" r="1.75" fill="#7ecbbe"/>
<circle cx="110.3" cy="278.1" r="1.75" fill="#7ecbbe"/>
<circle cx="112.1" cy="278.1" r="1.75" fill="#f4f1a3"/>
<circle cx="114.9" cy="278.1" r="1.75" fill="#7ecbbe"/>
<circle cx="117.0" cy="278.1" r="1.75" fill="#f4f1a3"/>
<circle cx="119.0" cy="278.1" r="1.75" fill="#f4f1a3"/>
<circle cx="121.0" cy="278.1" r="1.75" fill="#f4f1a3"/>
<circle cx="122.7" cy="278.1" r="1.75" fill="#f4f1a3"/>
<circle cx="126.4" cy="278.1" r="1.75" fill="#f4f1a3"/>
<circle cx="129.2" cy="278.1" r="1.75" fill="#f4f1a3"/>
<circle cx="140.1" cy="278.1" r="1.75" fill="#f7ac63"/>
<circle cx="145.4" cy="278.1" r="1.75" fill="#f4f1a3"/>
<circle cx="149.6" cy="278.1" r="1.75" fill="#f7ac63"/>
<circle cx="153.3" cy="278.1" r="1.75" fill="#7ecbbe"/>
<circle cx="158.1" cy="278.1" r="1.75" fill="#f7ac63"/>
<circle cx="178.8" cy="278.1" r="1.75" fill="#f7ac63"/>
<circle cx="65.6" cy="288.1" r="1.75" fill="#7ecbbe"/>
<circle cx="92.9" cy="288.1" r="1.75" fill="#f4f1a3"/>
<circle cx="97.5" cy="288.1" r="1.75" fill="#f4f1a3"/>
<circle cx="102.9" cy="288.1" r="1.75" fill="#7ecbbe"/>
<circle cx="110.3" cy="288.1" r="1.75" fill="#f4f1a3"/>
<circle cx="115.3" cy="288.1" r="1.75" fill="#f7ac63"/>
<circle cx="119.2" cy="288.1" r="1.75" fill="#f4f1a3"/>
<circle cx="121.3" cy="288.1" r="1.75" fill="#7ecbbe"/>
<circle cx="123.2" cy="288.1" r="1.75" fill="#f4f1a3"/>
<circle cx="135.5" cy="288.1" r="1.75" fill="#f7ac63"/>
<circle cx="141.0" cy="288.1" r="1.75" fill="#f4f1a3"/>
<circle cx="145.7" cy="288.1" r="1.75" fill="#f4f1a3"/>
<circle cx="148.2" cy="288.1" r="1.75" fill="#f7ac63"/>
<circle cx="150.5" cy="288.1" r="1.75" fill="#f7ac63"/>
<circle cx="152.8" cy="288.1" r="1.75" fill="#f7ac63"/>
<circle cx="158.1" cy="288.1" r="1.75" fill="#f7ac63"/>
<circle cx="160.9" cy="288.1" r="1.75" fill="#f7ac63"/>
<circle cx="177.7" cy="288.1" r="1.75" fill="#f4f1a3"/>
<circle cx="101.4" cy="298.1" r="1.75" fill="#f7ac63"/>
<circle cx="171.3" cy="298.1" r="1.75" fill="#f7ac63"/>
<circle cx="176.0" cy="308.1" r="1.75" fill="#f4f1a3"/>
<circle cx="178.3" cy="308.1" r="1.75" fill="#f7ac63"/>
<circle cx="151.2" cy="318.2" r="1.75" fill="#f7ac63"/>
<circle cx="82.7" cy="328.2" r="1.75" fill="#f7ac63"/>
<circle cx="127.1" cy="328.2" r="1.75" fill="#f7ac63"/>
<circle cx="175.2" cy="328.2" r="1.75" fill="#f7ac63"/>
<circle cx="166.8" cy="338.2" r="1.75" fill="#f7ac63"/>
<circle cx="163.1" cy="378.3" r="1.75" fill="#f7ac63"/>
<circle cx="310.5" cy="258.1" r="1.75" fill="#7ecbbe"/>
<circle cx="316.8" cy="258.1" r="1.75" fill="#f7ac63"/>
<circle cx="250.5" cy="258.1" r="1.75" fill="#7ecbbe"/>
<circle cx="260.7" cy="258.1" r="1.75" fill="#7ecbbe"/>
<circle cx="264.6" cy="258.1" r="1.75" fill="#7ecbbe"/>
<circle cx="266.7" cy="258.1" r="1.75" fill="#7ecbbe"/>
<circle cx="268.8" cy="258.1" r="1.75" fill="#7ecbbe"/>
<circle cx="270.9" cy="258.1" r="1.75" fill="#7ecbbe"/>
<circle cx="273.0" cy="258.1" r="1.75" fill="#7ecbbe"/>
<circle cx="275.0" cy="258.1" r="1.75" fill="#7ecbbe"/>
<circle cx="277.0" cy="258.1" r="1.75" fill="#7ecbbe"/>
<circle cx="279.0" cy="258.1" r="1.75" fill="#7ecbbe"/>
<circle cx="280.4" cy="258.1" r="1.75" fill="#f4f1a3"/>
<circle cx="282.2" cy="258.1" r="1.75" fill="#7ecbbe"/>
<circle cx="284.7" cy="258.1" r="1.75" fill="#f4f1a3"/>
<circle cx="287.3" cy="258.1" r="1.75" fill="#7ecbbe"/>
<circle cx="291.2" cy="258.1" r="1.75" fill="#7ecbbe"/>
<circle cx="295.6" cy="258.1" r="1.75" fill="#f4f1a3"/>
<circle cx="297.5" cy="258.1" r="1.75" fill="#f4f1a3"/>
<circle cx="300.2" cy="258.1" r="1.75" fill="#7ecbbe"/>
<circle cx="301.9" cy="258.1" r="1.75" fill="#f4f1a3"/>
<circle cx="303.5" cy="258.1" r="1.75" fill="#f4f1a3"/>
<circle cx="307.7" cy="258.1" r="1.75" fill="#f4f1a3"/>
<circle cx="312.0" cy="258.1" r="1.75" fill="#f4f1a3"/>
<circle cx="314.5" cy="258.1" r="1.75" fill="#f4f1a3"/>
<circle cx="319.7" cy="258.1" r="1.75" fill="#f4f1a3"/>
<circle cx="321.6" cy="258.1" r="1.75" fill="#f4f1a3"/>
<circle cx="325.3" cy="258.1" r="1.75" fill="#f7ac63"/>
<circle cx="329.0" cy="258.1" r="1.75" fill="#f4f1a3"/>
<circle cx="330.8" cy="258.1" r="1.75" fill="#f4f1a3"/>
<circle cx="335.0" cy="258.1" r="1.75" fill="#f4f1a3"/>
<circle cx="338.7" cy="258.1" r="1.75" fill="#f4f1a3"/>
<circle cx="343.8" cy="258.1" r="1.75" fill="#f4f1a3"/>
<circle cx="347.9" cy="258.1" r="1.75" fill="#f4f1a3"/>
<circle cx="353.0" cy="258.1" r="1.75" fill="#f4f1a3"/>
<circle cx="355.8" cy="258.1" r="1.75" fill="#f4f1a3"/>
<circle cx="357.7" cy="258.1" r="1.75" fill="#f4f1a3"/>
<circle cx="362.0" cy="258.1" r="1.75" fill="#f7ac63"/>
<circle cx="364.9" cy="258.1" r="1.75" fill="#f4f1a3"/>
<circle cx="367.9" cy="258.1" r="1.75" fill="#f4f1a3"/>
<circle cx="370.2" cy="258.1" r="1.75" fill="#f4f1a3"/>
<circle cx="374.3" cy="258.1" r="1.75" fill="#f4f1a3"/>
<circle cx="376.2" cy="258.1" r="1.75" fill="#f4f1a3"/>
<circle cx="378.0" cy="258.1" r="1.75" fill="#f7ac63"/>
<circle cx="383.4" cy="258.1" r="1.75" fill="#f7ac63"/>
<circle cx="385.6" cy="258.1" r="1.75" fill="#f4f1a3"/>
<circle cx="262.0" cy="268.1" r="1.75" fill="#7ecbbe"/>
<circle cx="264.0" cy="268.1" r="1.75" fill="#7ecbbe"/>
<circle cx="266.0" cy="268.1" r="1.75" fill="#7ecbbe"/>
<circle cx="268.0" cy="268.1" r="1.75" fill="#7ecbbe"/>
<circle cx="270.0" cy="268.1" r="1.75" fill="#7ecbbe"/>
<circle cx="272.0" cy="268.1" r="1.75" fill="#7ecbbe"/>
<circle cx="274.0" cy="268.1" r="1.75" fill="#7ecbbe"/>
<circle cx="275.3" cy="268.1" r="1.75" fill="#7ecbbe"/>
<circle cx="279.0" cy="268.1" r="1.75" fill="#7ecbbe"/>
<circle cx="281.0" cy="268.1" r="1.75" fill="#7ecbbe"/>
<circle cx="283.0" cy="268.1" r="1.75" fill="#7ecbbe"/>
<circle cx="285.0" cy="268.1" r="1.75" fill="#7ecbbe"/>
<circle cx="288.4" cy="268.1" r="1.75" fill="#7ecbbe"/>
<circle cx="292.4" cy="268.1" r="1.75" fill="#f4f1a3"/>
<circle cx="295.4" cy="268.1" r="1.75" fill="#f4f1a3"/>
<circle cx="301.4" cy="268.1" r="1.75" fill="#7ecbbe"/>
<circle cx="309.3" cy="268.1" r="1.75" fill="#f4f1a3"/>
<circle cx="312.8" cy="268.1" r="1.75" fill="#f4f1a3"/>
<circle cx="315.1" cy="268.1" r="1.75" fill="#f4f1a3"/>
<circle cx="322.0" cy="268.1" r="1.75" fill="#f4f1a3"/>
<circle cx="323.9" cy="268.1" r="1.75" fill="#f4f1a3"/>
<circle cx="325.0" cy="268.1" r="1.75" fill="#f7ac63"/>
<circle cx="332.4" cy="268.1" r="1.75" fill="#7ecbbe"/>
<circle cx="334.8" cy="268.1" r="1.75" fill="#f4f1a3"/>
<circle cx="336.8" cy="268.1" r="1.75" fill="#f4f1a3"/>
<circle cx="340.3" cy="268.1" r="1.75" fill="#f4f1a3"/>
<circle cx="344.2" cy="268.1" r="1.75" fill="#f4f1a3"/>
<circle cx="347.5" cy="268.1" r="1.75" fill="#f7ac63"/>
<circle cx="355.3" cy="268.1" r="1.75" fill="#f4f1a3"/>
<circle cx="357.9" cy="268.1" r="1.75" fill="#f7ac63"/>
<circle cx="360.5" cy="268.1" r="1.75" fill="#f4f1a3"/>
<circle cx="366.9" cy="268.1" r="1.75" fill="#f7ac63"/>
<circle cx="370.2" cy="268.1" r="1.75" fill="#f4f1a3"/>
<circle cx="379.7" cy="268.1" r="1.75" fill="#f4f1a3"/>
<circle cx="390.5" cy="268.1" r="1.75" fill="#f4f1a3"/>
<circle cx="264.6" cy="278.1" r="1.75" fill="#7ecbbe"/>
<circle cx="270.7" cy="278.1" r="1.75" fill="#7ecbbe"/>
<circle cx="281.8" cy="278.1" r="1.75" fill="#7ecbbe"/>
<circle cx="283.6" cy="278.1" r="1.75" fill="#7ecbbe"/>
<circle cx="288.4" cy="278.1" r="1.75" fill="#7ecbbe"/>
<circle cx="307.5" cy="278.1" r="1.75" fill="#f4f1a3"/>
<circle cx="312.3" cy="278.1" r="1.75" fill="#f7ac63"/>
<circle cx="319.4" cy="278.1" r="1.75" fill="#f4f1a3"/>
<circle cx="326.2" cy="278.1" r="1.75" fill="#f4f1a3"/>
<circle cx="337.3" cy="278.1" r="1.75" fill="#f4f1a3"/>
<circle cx="339.1" cy="278.1" r="1.75" fill="#f4f1a3"/>
<circle cx="340.7" cy="278.1" r="1.75" fill="#7ecbbe"/>
<circle cx="342.2" cy="278.1" r="1.75" fill="#f7ac63"/>
<circle cx="343.8" cy="278.1" r="1.75" fill="#f4f1a3"/>
<circle cx="345.6" cy="278.1" r="1.75" fill="#f4f1a3"/>
<circle cx="361.6" cy="278.1" r="1.75" fill="#f7ac63"/>
<circle cx="363.7" cy="278.1" r="1.75" fill="#f4f1a3"/>
<circle cx="366.9" cy="278.1" r="1.75" fill="#f7ac63"/>
<circle cx="370.9" cy="278.1" r="1.75" fill="#f4f1a3"/>
<circle cx="378.0" cy="278.1" r="1.75" fill="#f7ac63"/>
<circle cx="394.2" cy="278.1" r="1.75" fill="#f7ac63"/>
<circle cx="268.6" cy="288.1" r="1.75" fill="#f4f1a3"/>
<circle cx="271.1" cy="288.1" r="1.75" fill="#7ecbbe"/>
<circle cx="273.5" cy="288.1" r="1.75" fill="#7ecbbe"/>
<circle cx="276.0" cy="288.1" r="1.75" fill="#7ecbbe"/>
<circle cx="278.5" cy="288.1" r="1.75" fill="#7ecbbe"/>
<circle cx="308.9" cy="288.1" r="1.75" fill="#f4f1a3"/>
<circle cx="310.9" cy="288.1" r="1.75" fill="#7ecbbe"/>
<circle cx="315.1" cy="288.1" r="1.75" fill="#f4f1a3"/>
<circle cx="323.0" cy="288.1" r="1.75" fill="#f4f1a3"/>
<circle cx="324.8" cy="288.1" r="1.75" fill="#f4f1a3"/>
<circle cx="326.7" cy="288.1" r="1.75" fill="#f4f1a3"/>
<circle cx="330.2" cy="288.1" r="1.75" fill="#f7ac63"/>
<circle cx="346.5" cy="288.1" r="1.75" fill="#f4f1a3"/>
<circle cx="358.7" cy="288.1" r="1.75" fill="#f4f1a3"/>
<circle cx="368.3" cy="288.1" r="1.75" fill="#f7ac63"/>
<circle cx="374.8" cy="288.1" r="1.75" fill="#f7ac63"/>
<circle cx="376.2" cy="288.1" r="1.75" fill="#f4f1a3"/>
<circle cx="378.5" cy="288.1" r="1.75" fill="#f7ac63"/>
<circle cx="380.3" cy="288.1" r="1.75" fill="#f7ac63"/>
<circle cx="343.9" cy="298.1" r="1.75" fill="#f7ac63"/>
<circle cx="382.4" cy="298.1" r="1.75" fill="#f7ac63"/>
<circle cx="377.3" cy="308.1" r="1.75" fill="#f7ac63"/>
<circle cx="401.4" cy="308.1" r="1.75" fill="#f4f1a3"/>
<circle cx="369.8" cy="318.2" r="1.75" fill="#f7ac63"/>
<circle cx="323.8" cy="328.2" r="1.75" fill="#f7ac63"/>
<circle cx="369.1" cy="328.2" r="1.75" fill="#f7ac63"/>
<circle cx="371.0" cy="328.2" r="1.75" fill="#f7ac63"/>
<circle cx="390.4" cy="338.2" r="1.75" fill="#f7ac63"/>
<circle cx="375.7" cy="378.3" r="1.75" fill="#f7ac63"/>
<text x="49.18" y="168.8" font-size="9.8" textLength="43.43" lengthAdjust="spacingAndGlyphs" >β = −0.65</text><polygon points="95.20,161.15 95.72,162.39 97.05,162.50 96.03,163.37 96.35,164.68 95.20,163.98 94.05,164.68 94.37,163.37 93.35,162.50 94.68,162.39" fill="#333"/><polygon points="99.40,161.15 99.92,162.39 101.25,162.50 100.23,163.37 100.55,164.68 99.40,163.98 98.25,164.68 98.57,163.37 97.55,162.50 98.88,162.39" fill="#333"/><polygon points="103.60,161.15 104.12,162.39 105.45,162.50 104.43,163.37 104.75,164.68 103.60,163.98 102.45,164.68 102.77,163.37 101.75,162.50 103.08,162.39" fill="#333"/><text x="49.61" y="182.6" font-size="9.8" font-style="italic">R</text><text x="56.90" y="178.60" font-size="6.3">2</text><text x="62.94" y="182.6" font-size="9.8" textLength="25.91" lengthAdjust="spacingAndGlyphs" >= 0.41</text>
<text x="251.56" y="167.9" font-size="9.8" textLength="44.81" lengthAdjust="spacingAndGlyphs" >β = −0.60</text><polygon points="299.00,160.25 299.52,161.49 300.85,161.60 299.83,162.47 300.15,163.78 299.00,163.08 297.85,163.78 298.17,162.47 297.15,161.60 298.48,161.49" fill="#333"/><polygon points="303.20,160.25 303.72,161.49 305.05,161.60 304.03,162.47 304.35,163.78 303.20,163.08 302.05,163.78 302.37,162.47 301.35,161.60 302.68,161.49" fill="#333"/><polygon points="307.40,160.25 307.92,161.49 309.25,161.60 308.23,162.47 308.55,163.78 307.40,163.08 306.25,163.78 306.57,162.47 305.55,161.60 306.88,161.49" fill="#333"/><text x="252.01" y="181.7" font-size="9.8" font-style="italic">R</text><text x="259.30" y="177.70" font-size="6.3">2</text><text x="265.30" y="181.7" font-size="9.8" textLength="28.24" lengthAdjust="spacingAndGlyphs" >= 0.37</text>
<text x="48.38" y="379.8" font-size="9.8" textLength="43.42" lengthAdjust="spacingAndGlyphs" >β = −0.54</text><polygon points="94.50,372.15 95.02,373.39 96.35,373.50 95.33,374.37 95.65,375.68 94.50,374.98 93.35,375.68 93.67,374.37 92.65,373.50 93.98,373.39" fill="#333"/><polygon points="98.70,372.15 99.22,373.39 100.55,373.50 99.53,374.37 99.85,375.68 98.70,374.98 97.55,375.68 97.87,374.37 96.85,373.50 98.18,373.39" fill="#333"/><polygon points="102.90,372.15 103.42,373.39 104.75,373.50 103.73,374.37 104.05,375.68 102.90,374.98 101.75,375.68 102.07,374.37 101.05,373.50 102.38,373.39" fill="#333"/><text x="48.81" y="393.6" font-size="9.8" font-style="italic">R</text><text x="56.10" y="389.60" font-size="6.3">2</text><text x="62.10" y="393.6" font-size="9.8" textLength="28.34" lengthAdjust="spacingAndGlyphs" >= 0.35</text>
<text x="252.37" y="378.6" font-size="9.8" textLength="43.99" lengthAdjust="spacingAndGlyphs" >β = −0.40</text><polygon points="299.00,370.95 299.52,372.19 300.85,372.30 299.83,373.17 300.15,374.48 299.00,373.78 297.85,374.48 298.17,373.17 297.15,372.30 298.48,372.19" fill="#333"/><polygon points="303.20,370.95 303.72,372.19 305.05,372.30 304.03,373.17 304.35,374.48 303.20,373.78 302.05,374.48 302.37,373.17 301.35,372.30 302.68,372.19" fill="#333"/><polygon points="307.40,370.95 307.92,372.19 309.25,372.30 308.23,373.17 308.55,374.48 307.40,373.78 306.25,374.48 306.57,373.17 305.55,372.30 306.88,372.19" fill="#333"/><text x="252.81" y="392.6" font-size="9.8" font-style="italic">R</text><text x="260.10" y="388.60" font-size="6.3">2</text><text x="266.11" y="392.6" font-size="9.8" textLength="27.72" lengthAdjust="spacingAndGlyphs" >= 0.24</text>
<rect x="448.5" y="18.5" width="167" height="20" fill="none" stroke="#9a9a9a" stroke-width="1"/>
<rect x="449" y="39" width="166" height="1" fill="#dedede"/>
<line x1="445.1" y1="24.0" x2="448.3" y2="24.0" stroke="#777" stroke-width="0.9"/>
<text x="440.5" y="27.0" font-size="8.5" text-anchor="end" >All</text>
<line x1="445.1" y1="33.3" x2="448.3" y2="33.3" stroke="#777" stroke-width="0.9"/>
<text x="440.5" y="36.3" font-size="8.5" text-anchor="end" >Aβ+</text>
<line x1="555.5" y1="24.0" x2="577.7" y2="24.0" stroke="#a9d98f" stroke-width="1.1"/><line x1="555.5" y1="22.4" x2="555.5" y2="25.6" stroke="#a9d98f" stroke-width="0.9"/><line x1="577.7" y1="22.4" x2="577.7" y2="25.6" stroke="#a9d98f" stroke-width="0.9"/><circle cx="566.6" cy="24.0" r="1.75" fill="#a9d98f"/>
<line x1="540.3" y1="33.3" x2="567.5" y2="33.3" stroke="#a9d98f" stroke-width="1.1" stroke-dasharray="1.5 1.0"/><line x1="540.3" y1="31.699999999999996" x2="540.3" y2="34.9" stroke="#a9d98f" stroke-width="0.9"/><line x1="567.5" y1="31.699999999999996" x2="567.5" y2="34.9" stroke="#a9d98f" stroke-width="0.9"/><circle cx="553.6" cy="33.3" r="1.75" fill="#a9d98f"/>
<path d="M534.3 30.9 V36.5" stroke="#222" stroke-width="1.1"/><path d="M532.9 32.3 H535.6999999999999" stroke="#222" stroke-width="0.9"/>
<text x="618.94" y="25.3" font-size="8.5" textLength="31.32" lengthAdjust="spacingAndGlyphs" >Tau-PET</text>
<text x="618.59" y="35.6" font-size="8.5" textLength="29.26" lengthAdjust="spacingAndGlyphs" >(SUVR)</text>
<rect x="448.5" y="40.5" width="167" height="20" fill="none" stroke="#9a9a9a" stroke-width="1"/>
<rect x="449" y="61" width="166" height="2" fill="#dedede"/>
<line x1="445.1" y1="46.25" x2="448.3" y2="46.25" stroke="#777" stroke-width="0.9"/>
<text x="440.5" y="49.25" font-size="8.5" text-anchor="end" >All</text>
<line x1="445.1" y1="55.55" x2="448.3" y2="55.55" stroke="#777" stroke-width="0.9"/>
<text x="440.5" y="58.55" font-size="8.5" text-anchor="end" >Aβ+</text>
<line x1="544.9" y1="46.25" x2="569.9" y2="46.25" stroke="#4cb54f" stroke-width="1.1"/><line x1="544.9" y1="44.65" x2="544.9" y2="47.85" stroke="#4cb54f" stroke-width="0.9"/><line x1="569.9" y1="44.65" x2="569.9" y2="47.85" stroke="#4cb54f" stroke-width="0.9"/><circle cx="557.3" cy="46.25" r="1.75" fill="#4cb54f"/>
<line x1="528.7" y1="55.55" x2="558.6" y2="55.55" stroke="#4cb54f" stroke-width="1.1" stroke-dasharray="1.5 1.0"/><line x1="528.7" y1="53.949999999999996" x2="528.7" y2="57.15" stroke="#4cb54f" stroke-width="0.9"/><line x1="558.6" y1="53.949999999999996" x2="558.6" y2="57.15" stroke="#4cb54f" stroke-width="0.9"/><circle cx="543.6" cy="55.55" r="1.75" fill="#4cb54f"/>
<polygon points="538.90,44.30 539.57,45.92 541.33,46.06 539.99,47.20 540.40,48.91 538.90,48.00 537.40,48.91 537.81,47.20 536.47,46.06 538.23,45.92" fill="#2a2a2a"/>
<path d="M523.5 53.15 V58.75" stroke="#222" stroke-width="1.1"/><path d="M522.1 54.55 H524.9" stroke="#222" stroke-width="0.9"/>
<text x="618.41" y="47.72" font-size="8.5" textLength="53.94" lengthAdjust="spacingAndGlyphs" >MTBR-tau243</text>
<text x="618.6" y="58.02" font-size="8.5" textLength="33.6" lengthAdjust="spacingAndGlyphs">(pg ml<tspan dy="-3.6" font-size="4.8">−1</tspan><tspan dy="3.6">)</tspan></text>
<rect x="448.5" y="63.5" width="167" height="20" fill="none" stroke="#9a9a9a" stroke-width="1"/>
<rect x="449" y="84" width="166" height="1" fill="#dedede"/>
<line x1="445.1" y1="68.5" x2="448.3" y2="68.5" stroke="#777" stroke-width="0.9"/>
<text x="440.5" y="71.5" font-size="8.5" text-anchor="end" >All</text>
<line x1="445.1" y1="77.8" x2="448.3" y2="77.8" stroke="#777" stroke-width="0.9"/>
<text x="440.5" y="80.8" font-size="8.5" text-anchor="end" >Aβ+</text>
<line x1="542.5" y1="68.5" x2="566.9" y2="68.5" stroke="#f5913a" stroke-width="1.1"/><line x1="542.5" y1="66.9" x2="542.5" y2="70.1" stroke="#f5913a" stroke-width="0.9"/><line x1="566.9" y1="66.9" x2="566.9" y2="70.1" stroke="#f5913a" stroke-width="0.9"/><circle cx="554.5" cy="68.5" r="1.75" fill="#f5913a"/>
<line x1="525.0" y1="77.8" x2="554.5" y2="77.8" stroke="#f5913a" stroke-width="1.1" stroke-dasharray="1.5 1.0"/><line x1="525.0" y1="76.2" x2="525.0" y2="79.39999999999999" stroke="#f5913a" stroke-width="0.9"/><line x1="554.5" y1="76.2" x2="554.5" y2="79.39999999999999" stroke="#f5913a" stroke-width="0.9"/><circle cx="539.8" cy="77.8" r="1.75" fill="#f5913a"/>
<polygon points="536.60,66.55 537.27,68.17 539.03,68.31 537.69,69.45 538.10,71.16 536.60,70.25 535.10,71.16 535.51,69.45 534.17,68.31 535.93,68.17" fill="#2a2a2a"/>
<path d="M519.0 75.4 V81.0" stroke="#222" stroke-width="1.1"/><path d="M517.6 76.8 H520.4" stroke="#222" stroke-width="0.9"/>
<text x="618.49" y="70.14" font-size="8.5" textLength="50.82" lengthAdjust="spacingAndGlyphs" >pT205/T205</text>
<text x="618.59" y="80.44" font-size="8.5" textLength="13.27" lengthAdjust="spacingAndGlyphs" >(%)</text>
<rect x="448.5" y="85.5" width="167" height="20" fill="none" stroke="#9a9a9a" stroke-width="1"/>
<rect x="449" y="106" width="166" height="1" fill="#dedede"/>
<line x1="445.1" y1="90.75" x2="448.3" y2="90.75" stroke="#777" stroke-width="0.9"/>
<text x="440.5" y="93.75" font-size="8.5" text-anchor="end" >All</text>
<line x1="445.1" y1="100.05000000000001" x2="448.3" y2="100.05000000000001" stroke="#777" stroke-width="0.9"/>
<text x="440.5" y="103.05000000000001" font-size="8.5" text-anchor="end" >Aβ+</text>
<line x1="537.5" y1="90.75" x2="562.9" y2="90.75" stroke="#e8292d" stroke-width="1.1"/><line x1="537.5" y1="89.15" x2="537.5" y2="92.35" stroke="#e8292d" stroke-width="0.9"/><line x1="562.9" y1="89.15" x2="562.9" y2="92.35" stroke="#e8292d" stroke-width="0.9"/><circle cx="550.3" cy="90.75" r="1.75" fill="#e8292d"/>
<line x1="517.6" y1="100.05000000000001" x2="548.1" y2="100.05000000000001" stroke="#e8292d" stroke-width="1.1" stroke-dasharray="1.5 1.0"/><line x1="517.6" y1="98.45000000000002" x2="517.6" y2="101.65" stroke="#e8292d" stroke-width="0.9"/><line x1="548.1" y1="98.45000000000002" x2="548.1" y2="101.65" stroke="#e8292d" stroke-width="0.9"/><circle cx="532.9" cy="100.05000000000001" r="1.75" fill="#e8292d"/>
<text x="618.56" y="92.56" font-size="8.5" textLength="44.57" lengthAdjust="spacingAndGlyphs" >pT217/T217</text>
<text x="618.59" y="102.86" font-size="8.5" textLength="13.27" lengthAdjust="spacingAndGlyphs" >(%)</text>
<rect x="448.5" y="107.5" width="167" height="20" fill="none" stroke="#9a9a9a" stroke-width="1"/>
<rect x="449" y="128" width="166" height="1" fill="#dedede"/>
<line x1="445.1" y1="113.0" x2="448.3" y2="113.0" stroke="#777" stroke-width="0.9"/>
<text x="440.5" y="116.0" font-size="8.5" text-anchor="end" >All</text>
<line x1="445.1" y1="122.30000000000001" x2="448.3" y2="122.30000000000001" stroke="#777" stroke-width="0.9"/>
<text x="440.5" y="125.30000000000001" font-size="8.5" text-anchor="end" >Aβ+</text>
<line x1="516.7" y1="113.0" x2="544.5" y2="113.0" stroke="#2f7fbf" stroke-width="1.1"/><line x1="516.7" y1="111.4" x2="516.7" y2="114.6" stroke="#2f7fbf" stroke-width="0.9"/><line x1="544.5" y1="111.4" x2="544.5" y2="114.6" stroke="#2f7fbf" stroke-width="0.9"/><circle cx="530.6" cy="113.0" r="1.75" fill="#2f7fbf"/>
<line x1="491.4" y1="122.30000000000001" x2="524.1" y2="122.30000000000001" stroke="#2f7fbf" stroke-width="1.1" stroke-dasharray="1.5 1.0"/><line x1="491.4" y1="120.70000000000002" x2="491.4" y2="123.9" stroke="#2f7fbf" stroke-width="0.9"/><line x1="524.1" y1="120.70000000000002" x2="524.1" y2="123.9" stroke="#2f7fbf" stroke-width="0.9"/><circle cx="507.7" cy="122.30000000000001" r="1.75" fill="#2f7fbf"/>
<text x="618.54" y="114.98" font-size="8.5" textLength="46.37" lengthAdjust="spacingAndGlyphs" >pT231/T231</text>
<text x="618.59" y="125.28" font-size="8.5" textLength="13.27" lengthAdjust="spacingAndGlyphs" >(%)</text>
<rect x="448.5" y="129.5" width="167" height="20" fill="none" stroke="#9a9a9a" stroke-width="1"/>
<rect x="449" y="150" width="166" height="2" fill="#dedede"/>
<line x1="445.1" y1="135.25" x2="448.3" y2="135.25" stroke="#777" stroke-width="0.9"/>
<text x="440.5" y="138.25" font-size="8.5" text-anchor="end" >All</text>
<line x1="445.1" y1="144.55" x2="448.3" y2="144.55" stroke="#777" stroke-width="0.9"/>
<text x="440.5" y="147.55" font-size="8.5" text-anchor="end" >Aβ+</text>
<line x1="513.4" y1="135.25" x2="541.1" y2="135.25" stroke="#9a55ae" stroke-width="1.1"/><line x1="513.4" y1="133.65" x2="513.4" y2="136.85" stroke="#9a55ae" stroke-width="0.9"/><line x1="541.1" y1="133.65" x2="541.1" y2="136.85" stroke="#9a55ae" stroke-width="0.9"/><circle cx="527.1" cy="135.25" r="1.75" fill="#9a55ae"/>
<line x1="487.2" y1="144.55" x2="519.9" y2="144.55" stroke="#9a55ae" stroke-width="1.1" stroke-dasharray="1.5 1.0"/><line x1="487.2" y1="142.95000000000002" x2="487.2" y2="146.15" stroke="#9a55ae" stroke-width="0.9"/><line x1="519.9" y1="142.95000000000002" x2="519.9" y2="146.15" stroke="#9a55ae" stroke-width="0.9"/><circle cx="503.4" cy="144.55" r="1.75" fill="#9a55ae"/>
<text x="618.58" y="137.4" font-size="8.5" textLength="43.31" lengthAdjust="spacingAndGlyphs" >pT181/T181</text>
<text x="618.59" y="147.7" font-size="8.5" textLength="13.27" lengthAdjust="spacingAndGlyphs" >(%)</text>
<rect x="448.5" y="152.5" width="167" height="20" fill="none" stroke="#9a9a9a" stroke-width="1"/>
<rect x="449" y="173" width="166" height="1" fill="#dedede"/>
<line x1="445.1" y1="157.5" x2="448.3" y2="157.5" stroke="#777" stroke-width="0.9"/>
<text x="440.5" y="160.5" font-size="8.5" text-anchor="end" >All</text>
<line x1="445.1" y1="166.8" x2="448.3" y2="166.8" stroke="#777" stroke-width="0.9"/>
<text x="440.5" y="169.8" font-size="8.5" text-anchor="end" >Aβ+</text>
<line x1="511.6" y1="157.5" x2="539.9" y2="157.5" stroke="#5aaadc" stroke-width="1.1"/><line x1="511.6" y1="155.9" x2="511.6" y2="159.1" stroke="#5aaadc" stroke-width="0.9"/><line x1="539.9" y1="155.9" x2="539.9" y2="159.1" stroke="#5aaadc" stroke-width="0.9"/><circle cx="525.6" cy="157.5" r="1.75" fill="#5aaadc"/>
<line x1="479.2" y1="166.8" x2="513.6" y2="166.8" stroke="#5aaadc" stroke-width="1.1" stroke-dasharray="1.5 1.0"/><line x1="479.2" y1="165.20000000000002" x2="479.2" y2="168.4" stroke="#5aaadc" stroke-width="0.9"/><line x1="513.6" y1="165.20000000000002" x2="513.6" y2="168.4" stroke="#5aaadc" stroke-width="0.9"/><circle cx="496.2" cy="166.8" r="1.75" fill="#5aaadc"/>
<text x="619.10" y="164.82" font-size="8.5" textLength="47.79" lengthAdjust="spacingAndGlyphs" >Aβ42/40 (–)</text>
<rect x="448.5" y="174.5" width="167" height="20" fill="none" stroke="#9a9a9a" stroke-width="1"/>
<line x1="445.1" y1="179.75" x2="448.3" y2="179.75" stroke="#777" stroke-width="0.9"/>
<text x="440.5" y="182.75" font-size="8.5" text-anchor="end" >All</text>
<line x1="445.1" y1="189.05" x2="448.3" y2="189.05" stroke="#777" stroke-width="0.9"/>
<text x="440.5" y="192.05" font-size="8.5" text-anchor="end" >Aβ+</text>
<line x1="485.0" y1="179.75" x2="500.4" y2="179.75" stroke="#a8cde6" stroke-width="1.1"/><line x1="485.0" y1="178.15" x2="485.0" y2="181.35" stroke="#a8cde6" stroke-width="0.9"/><line x1="500.4" y1="178.15" x2="500.4" y2="181.35" stroke="#a8cde6" stroke-width="0.9"/><circle cx="492.6" cy="179.75" r="1.75" fill="#a8cde6"/>
<line x1="472.4" y1="189.05" x2="493.4" y2="189.05" stroke="#a8cde6" stroke-width="1.1" stroke-dasharray="1.5 1.0"/><line x1="472.4" y1="187.45000000000002" x2="472.4" y2="190.65" stroke="#a8cde6" stroke-width="0.9"/><line x1="493.4" y1="187.45000000000002" x2="493.4" y2="190.65" stroke="#a8cde6" stroke-width="0.9"/><circle cx="482.9" cy="189.05" r="1.75" fill="#a8cde6"/>
<text x="619.10" y="182.24" font-size="8.5" textLength="27.86" lengthAdjust="spacingAndGlyphs" >Aβ-PET</text>
<text x="618.58" y="192.54" font-size="8.5" textLength="16.99" lengthAdjust="spacingAndGlyphs" >(CL)</text>
<line x1="463.2" y1="194.15" x2="463.2" y2="197.65" stroke="#a3a3a3" stroke-width="1"/>
<text x="463.2" y="209.6" font-size="9.3" text-anchor="middle" >0</text>
<line x1="499.3" y1="194.15" x2="499.3" y2="197.65" stroke="#a3a3a3" stroke-width="1"/>
<text x="499.3" y="209.6" font-size="9.3" text-anchor="middle" >−0.25</text>
<line x1="535.4" y1="194.15" x2="535.4" y2="197.65" stroke="#a3a3a3" stroke-width="1"/>
<text x="535.4" y="209.6" font-size="9.3" text-anchor="middle" >−0.50</text>
<line x1="571.5" y1="194.15" x2="571.5" y2="197.65" stroke="#a3a3a3" stroke-width="1"/>
<text x="571.5" y="209.6" font-size="9.3" text-anchor="middle" >−0.75</text>
<line x1="607.6" y1="194.15" x2="607.6" y2="197.65" stroke="#a3a3a3" stroke-width="1"/>
<text x="607.6" y="209.6" font-size="9.3" text-anchor="middle" >−1.00</text>
<rect x="448.5" y="230.5" width="167" height="20" fill="none" stroke="#9a9a9a" stroke-width="1"/>
<rect x="449" y="251" width="166" height="1" fill="#dedede"/>
<line x1="445.1" y1="235.65" x2="448.3" y2="235.65" stroke="#777" stroke-width="0.9"/>
<text x="440.5" y="238.65" font-size="8.5" text-anchor="end" >All</text>
<line x1="445.1" y1="244.95000000000002" x2="448.3" y2="244.95000000000002" stroke="#777" stroke-width="0.9"/>
<text x="440.5" y="247.95000000000002" font-size="8.5" text-anchor="end" >Aβ+</text>
<line x1="542.5" y1="235.65" x2="571.7" y2="235.65" stroke="#a9d98f" stroke-width="1.1"/><line x1="542.5" y1="234.05" x2="542.5" y2="237.25" stroke="#a9d98f" stroke-width="0.9"/><line x1="571.7" y1="234.05" x2="571.7" y2="237.25" stroke="#a9d98f" stroke-width="0.9"/><circle cx="557.3" cy="235.65" r="1.75" fill="#a9d98f"/>
<line x1="538.3" y1="244.95000000000002" x2="574.5" y2="244.95000000000002" stroke="#a9d98f" stroke-width="1.1" stroke-dasharray="1.5 1.0"/><line x1="538.3" y1="243.35000000000002" x2="538.3" y2="246.55" stroke="#a9d98f" stroke-width="0.9"/><line x1="574.5" y1="243.35000000000002" x2="574.5" y2="246.55" stroke="#a9d98f" stroke-width="0.9"/><circle cx="556.4" cy="244.95000000000002" r="1.75" fill="#a9d98f"/>
<polygon points="537.40,233.70 538.07,235.32 539.83,235.46 538.49,236.60 538.90,238.31 537.40,237.40 535.90,238.31 536.31,236.60 534.97,235.46 536.73,235.32" fill="#2a2a2a"/>
<path d="M533.7 242.55 V248.15" stroke="#222" stroke-width="1.1"/><path d="M532.3000000000001 243.95000000000002 H535.1" stroke="#222" stroke-width="0.9"/>
<text x="618.94" y="237.3" font-size="8.5" textLength="31.32" lengthAdjust="spacingAndGlyphs" >Tau-PET</text>
<text x="618.59" y="247.6" font-size="8.5" textLength="29.26" lengthAdjust="spacingAndGlyphs" >(SUVR)</text>
<rect x="448.5" y="252.5" width="167" height="20" fill="none" stroke="#9a9a9a" stroke-width="1"/>
<rect x="449" y="273" width="166" height="1" fill="#dedede"/>
<line x1="445.1" y1="257.90000000000003" x2="448.3" y2="257.90000000000003" stroke="#777" stroke-width="0.9"/>
<text x="440.5" y="260.90000000000003" font-size="8.5" text-anchor="end" >All</text>
<line x1="445.1" y1="267.2" x2="448.3" y2="267.2" stroke="#777" stroke-width="0.9"/>
<text x="440.5" y="270.2" font-size="8.5" text-anchor="end" >Aβ+</text>
<line x1="526.8" y1="257.90000000000003" x2="562.5" y2="257.90000000000003" stroke="#4cb54f" stroke-width="1.1"/><line x1="526.8" y1="256.3" x2="526.8" y2="259.50000000000006" stroke="#4cb54f" stroke-width="0.9"/><line x1="562.5" y1="256.3" x2="562.5" y2="259.50000000000006" stroke="#4cb54f" stroke-width="0.9"/><circle cx="544.4" cy="257.90000000000003" r="1.75" fill="#4cb54f"/>
<line x1="522.6" y1="267.2" x2="564.7" y2="267.2" stroke="#4cb54f" stroke-width="1.1" stroke-dasharray="1.5 1.0"/><line x1="522.6" y1="265.59999999999997" x2="522.6" y2="268.8" stroke="#4cb54f" stroke-width="0.9"/><line x1="564.7" y1="265.59999999999997" x2="564.7" y2="268.8" stroke="#4cb54f" stroke-width="0.9"/><circle cx="543.6" cy="267.2" r="1.75" fill="#4cb54f"/>
<polygon points="521.30,255.95 521.97,257.57 523.73,257.71 522.39,258.85 522.80,260.56 521.30,259.65 519.80,260.56 520.21,258.85 518.87,257.71 520.63,257.57" fill="#2a2a2a"/>
<path d="M517.0 264.79999999999995 V270.4" stroke="#222" stroke-width="1.1"/><path d="M515.6 266.2 H518.4" stroke="#222" stroke-width="0.9"/>
<text x="618.41" y="259.59" font-size="8.5" textLength="53.94" lengthAdjust="spacingAndGlyphs" >MTBR-tau243</text>
<text x="618.6" y="269.89" font-size="8.5" textLength="33.6" lengthAdjust="spacingAndGlyphs">(pg ml<tspan dy="-3.6" font-size="4.8">−1</tspan><tspan dy="3.6">)</tspan></text>
<rect x="448.5" y="274.5" width="167" height="20" fill="none" stroke="#9a9a9a" stroke-width="1"/>
<rect x="449" y="295" width="166" height="1" fill="#dedede"/>
<line x1="445.1" y1="280.15000000000003" x2="448.3" y2="280.15000000000003" stroke="#777" stroke-width="0.9"/>
<text x="440.5" y="283.15000000000003" font-size="8.5" text-anchor="end" >All</text>
<line x1="445.1" y1="289.45" x2="448.3" y2="289.45" stroke="#777" stroke-width="0.9"/>
<text x="440.5" y="292.45" font-size="8.5" text-anchor="end" >Aβ+</text>
<line x1="517.2" y1="280.15000000000003" x2="552.7" y2="280.15000000000003" stroke="#f5913a" stroke-width="1.1"/><line x1="517.2" y1="278.55" x2="517.2" y2="281.75000000000006" stroke="#f5913a" stroke-width="0.9"/><line x1="552.7" y1="278.55" x2="552.7" y2="281.75000000000006" stroke="#f5913a" stroke-width="0.9"/><circle cx="535.0" cy="280.15000000000003" r="1.75" fill="#f5913a"/>
<line x1="508.3" y1="289.45" x2="552.7" y2="289.45" stroke="#f5913a" stroke-width="1.1" stroke-dasharray="1.5 1.0"/><line x1="508.3" y1="287.84999999999997" x2="508.3" y2="291.05" stroke="#f5913a" stroke-width="0.9"/><line x1="552.7" y1="287.84999999999997" x2="552.7" y2="291.05" stroke="#f5913a" stroke-width="0.9"/><circle cx="530.5" cy="289.45" r="1.75" fill="#f5913a"/>
<polygon points="511.10,278.20 511.77,279.82 513.53,279.96 512.19,281.10 512.60,282.81 511.10,281.90 509.60,282.81 510.01,281.10 508.67,279.96 510.43,279.82" fill="#2a2a2a"/>
<path d="M502.2 287.04999999999995 V292.65" stroke="#222" stroke-width="1.1"/><path d="M500.8 288.45 H503.59999999999997" stroke="#222" stroke-width="0.9"/>
<text x="618.49" y="281.88" font-size="8.5" textLength="50.82" lengthAdjust="spacingAndGlyphs" >pT205/T205</text>
<text x="618.59" y="292.18" font-size="8.5" textLength="13.27" lengthAdjust="spacingAndGlyphs" >(%)</text>
<rect x="448.5" y="296.5" width="167" height="20" fill="none" stroke="#9a9a9a" stroke-width="1"/>
<rect x="449" y="317" width="166" height="2" fill="#dedede"/>
<line x1="445.1" y1="302.40000000000003" x2="448.3" y2="302.40000000000003" stroke="#777" stroke-width="0.9"/>
<text x="440.5" y="305.40000000000003" font-size="8.5" text-anchor="end" >All</text>
<line x1="445.1" y1="311.7" x2="448.3" y2="311.7" stroke="#777" stroke-width="0.9"/>
<text x="440.5" y="314.7" font-size="8.5" text-anchor="end" >Aβ+</text>
<line x1="505.3" y1="302.40000000000003" x2="542.6" y2="302.40000000000003" stroke="#e8292d" stroke-width="1.1"/><line x1="505.3" y1="300.8" x2="505.3" y2="304.00000000000006" stroke="#e8292d" stroke-width="0.9"/><line x1="542.6" y1="300.8" x2="542.6" y2="304.00000000000006" stroke="#e8292d" stroke-width="0.9"/><circle cx="523.8" cy="302.40000000000003" r="1.75" fill="#e8292d"/>
<line x1="495.5" y1="311.7" x2="541.3" y2="311.7" stroke="#e8292d" stroke-width="1.1" stroke-dasharray="1.5 1.0"/><line x1="495.5" y1="310.09999999999997" x2="495.5" y2="313.3" stroke="#e8292d" stroke-width="0.9"/><line x1="541.3" y1="310.09999999999997" x2="541.3" y2="313.3" stroke="#e8292d" stroke-width="0.9"/><circle cx="518.6" cy="311.7" r="1.75" fill="#e8292d"/>
<text x="618.56" y="304.17" font-size="8.5" textLength="44.57" lengthAdjust="spacingAndGlyphs" >pT217/T217</text>
<text x="618.59" y="314.47" font-size="8.5" textLength="13.27" lengthAdjust="spacingAndGlyphs" >(%)</text>
<rect x="448.5" y="319.5" width="167" height="20" fill="none" stroke="#9a9a9a" stroke-width="1"/>
<rect x="449" y="340" width="166" height="1" fill="#dedede"/>
<line x1="445.1" y1="324.65000000000003" x2="448.3" y2="324.65000000000003" stroke="#777" stroke-width="0.9"/>
<text x="440.5" y="327.65000000000003" font-size="8.5" text-anchor="end" >All</text>
<line x1="445.1" y1="333.95" x2="448.3" y2="333.95" stroke="#777" stroke-width="0.9"/>
<text x="440.5" y="336.95" font-size="8.5" text-anchor="end" >Aβ+</text>
<line x1="498.4" y1="324.65000000000003" x2="535.4" y2="324.65000000000003" stroke="#a8cde6" stroke-width="1.1"/><line x1="498.4" y1="323.05" x2="498.4" y2="326.25000000000006" stroke="#a8cde6" stroke-width="0.9"/><line x1="535.4" y1="323.05" x2="535.4" y2="326.25000000000006" stroke="#a8cde6" stroke-width="0.9"/><circle cx="516.6" cy="324.65000000000003" r="1.75" fill="#a8cde6"/>
<line x1="490.9" y1="333.95" x2="537.4" y2="333.95" stroke="#a8cde6" stroke-width="1.1" stroke-dasharray="1.5 1.0"/><line x1="490.9" y1="332.34999999999997" x2="490.9" y2="335.55" stroke="#a8cde6" stroke-width="0.9"/><line x1="537.4" y1="332.34999999999997" x2="537.4" y2="335.55" stroke="#a8cde6" stroke-width="0.9"/><circle cx="514.1" cy="333.95" r="1.75" fill="#a8cde6"/>
<text x="619.10" y="326.46" font-size="8.5" textLength="27.86" lengthAdjust="spacingAndGlyphs" >Aβ-PET</text>
<text x="618.58" y="336.76" font-size="8.5" textLength="16.99" lengthAdjust="spacingAndGlyphs" >(CL)</text>
<rect x="448.5" y="341.5" width="167" height="20" fill="none" stroke="#9a9a9a" stroke-width="1"/>
<rect x="449" y="362" width="166" height="1" fill="#dedede"/>
<line x1="445.1" y1="346.90000000000003" x2="448.3" y2="346.90000000000003" stroke="#777" stroke-width="0.9"/>
<text x="440.5" y="349.90000000000003" font-size="8.5" text-anchor="end" >All</text>
<line x1="445.1" y1="356.2" x2="448.3" y2="356.2" stroke="#777" stroke-width="0.9"/>
<text x="440.5" y="359.2" font-size="8.5" text-anchor="end" >Aβ+</text>
<line x1="488.1" y1="346.90000000000003" x2="527.3" y2="346.90000000000003" stroke="#5aaadc" stroke-width="1.1"/><line x1="488.1" y1="345.3" x2="488.1" y2="348.50000000000006" stroke="#5aaadc" stroke-width="0.9"/><line x1="527.3" y1="345.3" x2="527.3" y2="348.50000000000006" stroke="#5aaadc" stroke-width="0.9"/><circle cx="507.5" cy="346.90000000000003" r="1.75" fill="#5aaadc"/>
<line x1="469.0" y1="356.2" x2="517.3" y2="356.2" stroke="#5aaadc" stroke-width="1.1" stroke-dasharray="1.5 1.0"/><line x1="469.0" y1="354.59999999999997" x2="469.0" y2="357.8" stroke="#5aaadc" stroke-width="0.9"/><line x1="517.3" y1="354.59999999999997" x2="517.3" y2="357.8" stroke="#5aaadc" stroke-width="0.9"/><circle cx="493.1" cy="356.2" r="1.75" fill="#5aaadc"/>
<text x="619.10" y="353.75" font-size="8.5" textLength="47.79" lengthAdjust="spacingAndGlyphs" >Aβ42/40 (–)</text>
<rect x="448.5" y="363.5" width="167" height="20" fill="none" stroke="#9a9a9a" stroke-width="1"/>
<rect x="449" y="384" width="166" height="1" fill="#dedede"/>
<line x1="445.1" y1="369.15000000000003" x2="448.3" y2="369.15000000000003" stroke="#777" stroke-width="0.9"/>
<text x="440.5" y="372.15000000000003" font-size="8.5" text-anchor="end" >All</text>
<line x1="445.1" y1="378.45" x2="448.3" y2="378.45" stroke="#777" stroke-width="0.9"/>
<text x="440.5" y="381.45" font-size="8.5" text-anchor="end" >Aβ+</text>
<line x1="485.3" y1="369.15000000000003" x2="525.6" y2="369.15000000000003" stroke="#2f7fbf" stroke-width="1.1"/><line x1="485.3" y1="367.55" x2="485.3" y2="370.75000000000006" stroke="#2f7fbf" stroke-width="0.9"/><line x1="525.6" y1="367.55" x2="525.6" y2="370.75000000000006" stroke="#2f7fbf" stroke-width="0.9"/><circle cx="505.6" cy="369.15000000000003" r="1.75" fill="#2f7fbf"/>
<line x1="464.6" y1="378.45" x2="512.5" y2="378.45" stroke="#2f7fbf" stroke-width="1.1" stroke-dasharray="1.5 1.0"/><line x1="464.6" y1="376.84999999999997" x2="464.6" y2="380.05" stroke="#2f7fbf" stroke-width="0.9"/><line x1="512.5" y1="376.84999999999997" x2="512.5" y2="380.05" stroke="#2f7fbf" stroke-width="0.9"/><circle cx="488.4" cy="378.45" r="1.75" fill="#2f7fbf"/>
<text x="618.54" y="371.04" font-size="8.5" textLength="46.37" lengthAdjust="spacingAndGlyphs" >pT231/T231</text>
<text x="618.59" y="381.34" font-size="8.5" textLength="13.27" lengthAdjust="spacingAndGlyphs" >(%)</text>
<rect x="448.5" y="385.5" width="167" height="20" fill="none" stroke="#9a9a9a" stroke-width="1"/>
<line x1="445.1" y1="391.40000000000003" x2="448.3" y2="391.40000000000003" stroke="#777" stroke-width="0.9"/>
<text x="440.5" y="394.40000000000003" font-size="8.5" text-anchor="end" >All</text>
<line x1="445.1" y1="400.7" x2="448.3" y2="400.7" stroke="#777" stroke-width="0.9"/>
<text x="440.5" y="403.7" font-size="8.5" text-anchor="end" >Aβ+</text>
<line x1="482.5" y1="391.40000000000003" x2="521.7" y2="391.40000000000003" stroke="#9a55ae" stroke-width="1.1"/><line x1="482.5" y1="389.8" x2="482.5" y2="393.00000000000006" stroke="#9a55ae" stroke-width="0.9"/><line x1="521.7" y1="389.8" x2="521.7" y2="393.00000000000006" stroke="#9a55ae" stroke-width="0.9"/><circle cx="502.3" cy="391.40000000000003" r="1.75" fill="#9a55ae"/>
<line x1="460.3" y1="400.7" x2="509.7" y2="400.7" stroke="#9a55ae" stroke-width="1.1" stroke-dasharray="1.5 1.0"/><line x1="460.3" y1="399.09999999999997" x2="460.3" y2="402.3" stroke="#9a55ae" stroke-width="0.9"/><line x1="509.7" y1="399.09999999999997" x2="509.7" y2="402.3" stroke="#9a55ae" stroke-width="0.9"/><circle cx="484.9" cy="400.7" r="1.75" fill="#9a55ae"/>
<text x="618.58" y="393.33" font-size="8.5" textLength="43.31" lengthAdjust="spacingAndGlyphs" >pT181/T181</text>
<text x="618.59" y="403.63" font-size="8.5" textLength="13.27" lengthAdjust="spacingAndGlyphs" >(%)</text>
<line x1="469.1" y1="405.8" x2="469.1" y2="409.3" stroke="#a3a3a3" stroke-width="1"/>
<text x="469.1" y="421" font-size="9.3" text-anchor="middle" >0</text>
<line x1="503.5" y1="405.8" x2="503.5" y2="409.3" stroke="#a3a3a3" stroke-width="1"/>
<text x="503.5" y="421" font-size="9.3" text-anchor="middle" >−0.25</text>
<line x1="538.0" y1="405.8" x2="538.0" y2="409.3" stroke="#a3a3a3" stroke-width="1"/>
<text x="538.0" y="421" font-size="9.3" text-anchor="middle" >−0.50</text>
<line x1="572.4" y1="405.8" x2="572.4" y2="409.3" stroke="#a3a3a3" stroke-width="1"/>
<text x="572.4" y="421" font-size="9.3" text-anchor="middle" >−0.75</text>
<line x1="606.8" y1="405.8" x2="606.8" y2="409.3" stroke="#a3a3a3" stroke-width="1"/>
<text x="606.8" y="421" font-size="9.3" text-anchor="middle" >−1.00</text>
<circle cx="25.1" cy="471.7" r="3.3" fill="#7ecbbe"/>
<text x="33.81" y="475.2" font-size="10.2" textLength="20.07" lengthAdjust="spacingAndGlyphs" >CU−</text>
<circle cx="91.7" cy="471.7" r="3.3" fill="#f4f1a3"/>
<text x="99.98" y="475.2" font-size="10.2" textLength="20.91" lengthAdjust="spacingAndGlyphs" >CU+</text>
<circle cx="164.2" cy="471.7" r="3.3" fill="#f7ac63"/>
<text x="172.83" y="475.2" font-size="10.2" textLength="90.18" lengthAdjust="spacingAndGlyphs" >MCI+/very mild AD</text>
<circle cx="300.1" cy="471.7" r="3.3" fill="#f27c70"/>
<text x="309.00" y="475.2" font-size="10.2" textLength="18.86" lengthAdjust="spacingAndGlyphs" >AD+</text>
<line x1="373.8" y1="462.2" x2="382.8" y2="462.2" stroke="#4cb54f" stroke-width="1.5"/>
<text x="388.47" y="465.9" font-size="10.2" textLength="64.34" lengthAdjust="spacingAndGlyphs" >MTBR-tau243</text>
<line x1="460.7" y1="462.2" x2="469.7" y2="462.2" stroke="#9a55ae" stroke-width="1.5"/>
<text x="474.78" y="465.9" font-size="10.2" textLength="51.48" lengthAdjust="spacingAndGlyphs" >pT181/T181</text>
<line x1="535.5" y1="462.2" x2="544.5" y2="462.2" stroke="#f5913a" stroke-width="1.5"/>
<text x="549.99" y="465.9" font-size="10.2" textLength="59.08" lengthAdjust="spacingAndGlyphs" >pT205/T205</text>
<line x1="618.4" y1="462.2" x2="627.4" y2="462.2" stroke="#e8292d" stroke-width="1.5"/>
<text x="632.98" y="465.9" font-size="10.2" textLength="51.83" lengthAdjust="spacingAndGlyphs" >pT217/T217</text>
<line x1="373.8" y1="481.2" x2="382.8" y2="481.2" stroke="#2f7fbf" stroke-width="1.5"/>
<text x="388.65" y="484.9" font-size="10.2" textLength="54.23" lengthAdjust="spacingAndGlyphs" >pT231/T231</text>
<line x1="460.7" y1="481.2" x2="469.7" y2="481.2" stroke="#5aaadc" stroke-width="1.5"/>
<text x="475.40" y="484.9" font-size="10.2" textLength="41.38" lengthAdjust="spacingAndGlyphs" >Aβ42/40</text>
<line x1="535.5" y1="481.2" x2="544.5" y2="481.2" stroke="#a8cde6" stroke-width="1.5"/>
<text x="550.70" y="484.9" font-size="10.2" textLength="31.68" lengthAdjust="spacingAndGlyphs" >Aβ PET</text>
<line x1="618.4" y1="481.2" x2="627.4" y2="481.2" stroke="#a9d98f" stroke-width="1.5"/>
<text x="633.41" y="484.9" font-size="10.2" textLength="36.18" lengthAdjust="spacingAndGlyphs" >Tau PET</text>
</svg></body></html>
